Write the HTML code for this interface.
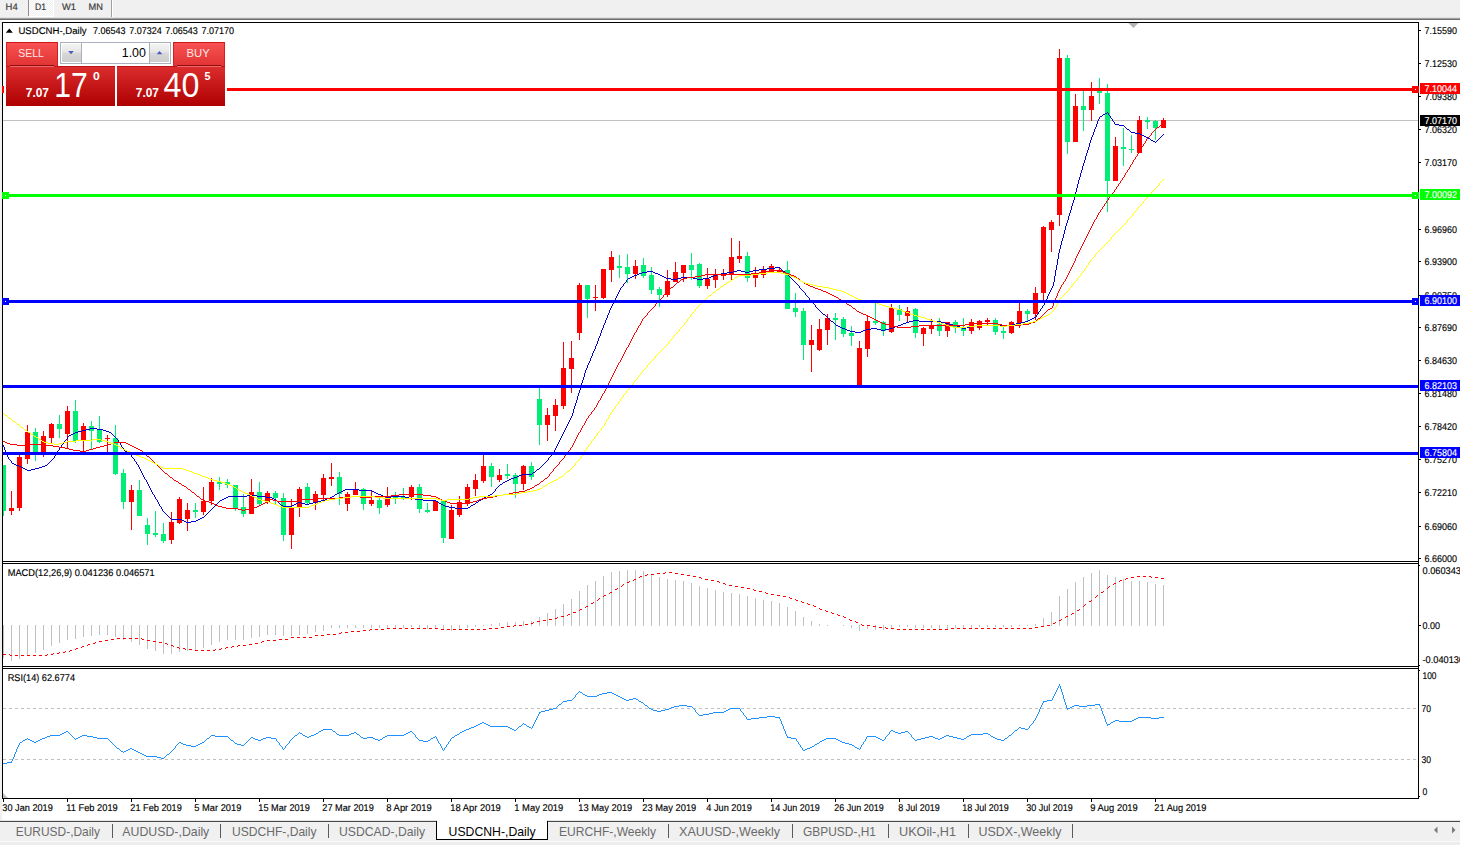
<!DOCTYPE html>
<html><head><meta charset="utf-8"><title>USDCNH-,Daily</title>
<style>html,body{margin:0;padding:0;background:#f0f0f0;overflow:hidden}svg text{white-space:pre}</style></head>
<body>
<svg width="1460" height="845" viewBox="0 0 1460 845" font-family='"Liberation Sans", Arial, sans-serif' style="display:block">
<defs>
<linearGradient id="gTab" x1="0" y1="0" x2="0" y2="1"><stop offset="0" stop-color="#f95252"/><stop offset="1" stop-color="#e13434"/></linearGradient>
<linearGradient id="gBig" x1="0" y1="0" x2="0" y2="1"><stop offset="0" stop-color="#dc2e2e"/><stop offset="1" stop-color="#ae0000"/></linearGradient>
<linearGradient id="gBtn" x1="0" y1="0" x2="0" y2="1"><stop offset="0" stop-color="#f4f4f4"/><stop offset="0.45" stop-color="#e6e6e6"/><stop offset="0.5" stop-color="#d8d8d8"/><stop offset="1" stop-color="#cdcdcd"/></linearGradient>
<pattern id="chk" width="2" height="2" patternUnits="userSpaceOnUse"><rect width="2" height="2" fill="#f0f0f0"/><rect width="1" height="1" fill="#fff"/><rect x="1" y="1" width="1" height="1" fill="#fff"/></pattern>
<clipPath id="clipMain"><rect x="3" y="23" width="1415" height="538"/></clipPath>
</defs>
<rect x="0" y="0" width="1460" height="845" fill="#f0f0f0" />
<rect x="0" y="18" width="1460" height="1" fill="#a0a0a0" />
<rect x="0" y="19" width="1460" height="1" fill="#6e6e6e" />
<rect x="2" y="20" width="1458" height="802" fill="#ffffff" />
<rect x="0" y="20" width="2" height="802" fill="#f0f0f0" />
<g shape-rendering="crispEdges">
<rect x="29" y="0" width="24" height="16" fill="url(#chk)" />
<rect x="53" y="0" width="1" height="17" fill="#fff" />
<rect x="29" y="16" width="25" height="1" fill="#fff" />
<rect x="28" y="0" width="1" height="16" fill="#8e8e8e" />
<rect x="111" y="0" width="1" height="18" fill="#a0a0a0" />
<rect x="112" y="0" width="1" height="18" fill="#fff" />
<rect x="0" y="17" width="1460" height="1" fill="#e2e2e2" />
</g>
<text x="5.6" y="9.9" font-size="9.4" fill="#404040" textLength="12.1" lengthAdjust="spacingAndGlyphs" text-rendering="geometricPrecision" stroke="#404040" stroke-width="0.2">H4</text>
<text x="34.9" y="9.9" font-size="9.4" fill="#404040" textLength="11.1" lengthAdjust="spacingAndGlyphs" text-rendering="geometricPrecision" stroke="#404040" stroke-width="0.2">D1</text>
<text x="62" y="9.9" font-size="9.4" fill="#404040" textLength="14" lengthAdjust="spacingAndGlyphs" text-rendering="geometricPrecision" stroke="#404040" stroke-width="0.2">W1</text>
<text x="88.6" y="9.9" font-size="9.4" fill="#404040" textLength="14.4" lengthAdjust="spacingAndGlyphs" text-rendering="geometricPrecision" stroke="#404040" stroke-width="0.2">MN</text>
<g shape-rendering="crispEdges">
<rect x="2" y="22" width="1417" height="1" fill="#000" />
<rect x="2" y="22" width="1" height="777" fill="#000" />
<rect x="1418" y="22" width="1" height="777" fill="#000" />
<rect x="2" y="561" width="1417" height="1" fill="#000" />
<rect x="2" y="563" width="1417" height="1" fill="#000" />
<rect x="2" y="666" width="1417" height="1" fill="#000" />
<rect x="2" y="668" width="1417" height="1" fill="#000" />
<rect x="2" y="798" width="1417" height="1" fill="#000" />
<rect x="3" y="120" width="1415" height="1" fill="#c0c0c0" />
<g clip-path="url(#clipMain)">
<rect x="3" y="465" width="1" height="51" fill="#00ee76" />
<rect x="1" y="465" width="5" height="46" fill="#00ee76" />
<rect x="11" y="491" width="1" height="24" fill="#ff0000" />
<rect x="9" y="508" width="5" height="3" fill="#ff0000" />
<rect x="19" y="455" width="1" height="56" fill="#ff0000" />
<rect x="17" y="457" width="5" height="51" fill="#ff0000" />
<rect x="27" y="425" width="1" height="39" fill="#ff0000" />
<rect x="25" y="432" width="5" height="27" fill="#ff0000" />
<rect x="35" y="428" width="1" height="33" fill="#00ee76" />
<rect x="33" y="432" width="5" height="21" fill="#00ee76" />
<rect x="43" y="431" width="1" height="26" fill="#ff0000" />
<rect x="41" y="436" width="5" height="16" fill="#ff0000" />
<rect x="51" y="423" width="1" height="20" fill="#ff0000" />
<rect x="49" y="424" width="5" height="14" fill="#ff0000" />
<rect x="59" y="415" width="1" height="23" fill="#00ee76" />
<rect x="57" y="424" width="5" height="5" fill="#00ee76" />
<rect x="67" y="406" width="1" height="42" fill="#ff0000" />
<rect x="65" y="411" width="5" height="23" fill="#ff0000" />
<rect x="75" y="400" width="1" height="43" fill="#00ee76" />
<rect x="73" y="411" width="5" height="30" fill="#00ee76" />
<rect x="83" y="423" width="1" height="28" fill="#ff0000" />
<rect x="81" y="426" width="5" height="15" fill="#ff0000" />
<rect x="91" y="421" width="1" height="28" fill="#00ee76" />
<rect x="89" y="426" width="5" height="5" fill="#00ee76" />
<rect x="99" y="416" width="1" height="27" fill="#00ee76" />
<rect x="97" y="430" width="5" height="12" fill="#00ee76" />
<rect x="107" y="435" width="1" height="17" fill="#ff0000" />
<rect x="105" y="438" width="5" height="1" fill="#ff0000" />
<rect x="115" y="425" width="1" height="50" fill="#00ee76" />
<rect x="113" y="438" width="5" height="36" fill="#00ee76" />
<rect x="123" y="469" width="1" height="40" fill="#00ee76" />
<rect x="121" y="473" width="5" height="29" fill="#00ee76" />
<rect x="131" y="485" width="1" height="45" fill="#ff0000" />
<rect x="129" y="490" width="5" height="12" fill="#ff0000" />
<rect x="139" y="480" width="1" height="36" fill="#00ee76" />
<rect x="137" y="490" width="5" height="26" fill="#00ee76" />
<rect x="147" y="518" width="1" height="27" fill="#00ee76" />
<rect x="145" y="525" width="5" height="9" fill="#00ee76" />
<rect x="155" y="511" width="1" height="26" fill="#00ee76" />
<rect x="153" y="533" width="5" height="2" fill="#00ee76" />
<rect x="163" y="523" width="1" height="20" fill="#00ee76" />
<rect x="161" y="534" width="5" height="7" fill="#00ee76" />
<rect x="171" y="512" width="1" height="32" fill="#ff0000" />
<rect x="169" y="522" width="5" height="18" fill="#ff0000" />
<rect x="179" y="497" width="1" height="27" fill="#ff0000" />
<rect x="177" y="499" width="5" height="24" fill="#ff0000" />
<rect x="187" y="503" width="1" height="28" fill="#ff0000" />
<rect x="185" y="510" width="5" height="9" fill="#ff0000" />
<rect x="195" y="503" width="1" height="15" fill="#00ee76" />
<rect x="193" y="510" width="5" height="2" fill="#00ee76" />
<rect x="203" y="487" width="1" height="28" fill="#ff0000" />
<rect x="201" y="501" width="5" height="11" fill="#ff0000" />
<rect x="211" y="478" width="1" height="27" fill="#ff0000" />
<rect x="209" y="482" width="5" height="19" fill="#ff0000" />
<rect x="219" y="477" width="1" height="13" fill="#00ee76" />
<rect x="217" y="482" width="5" height="2" fill="#00ee76" />
<rect x="227" y="479" width="1" height="9" fill="#00ee76" />
<rect x="225" y="482" width="5" height="3" fill="#00ee76" />
<rect x="235" y="485" width="1" height="26" fill="#00ee76" />
<rect x="233" y="485" width="5" height="23" fill="#00ee76" />
<rect x="243" y="494" width="1" height="23" fill="#00ee76" />
<rect x="241" y="507" width="5" height="7" fill="#00ee76" />
<rect x="251" y="479" width="1" height="35" fill="#ff0000" />
<rect x="249" y="492" width="5" height="22" fill="#ff0000" />
<rect x="259" y="482" width="1" height="24" fill="#00ee76" />
<rect x="257" y="492" width="5" height="12" fill="#00ee76" />
<rect x="267" y="491" width="1" height="13" fill="#ff0000" />
<rect x="265" y="493" width="5" height="9" fill="#ff0000" />
<rect x="275" y="491" width="1" height="13" fill="#00ee76" />
<rect x="273" y="493" width="5" height="5" fill="#00ee76" />
<rect x="283" y="493" width="1" height="48" fill="#00ee76" />
<rect x="281" y="498" width="5" height="37" fill="#00ee76" />
<rect x="291" y="499" width="1" height="50" fill="#ff0000" />
<rect x="289" y="507" width="5" height="28" fill="#ff0000" />
<rect x="299" y="487" width="1" height="30" fill="#ff0000" />
<rect x="297" y="489" width="5" height="19" fill="#ff0000" />
<rect x="307" y="483" width="1" height="21" fill="#00ee76" />
<rect x="305" y="487" width="5" height="16" fill="#00ee76" />
<rect x="315" y="491" width="1" height="19" fill="#ff0000" />
<rect x="313" y="494" width="5" height="9" fill="#ff0000" />
<rect x="323" y="474" width="1" height="26" fill="#ff0000" />
<rect x="321" y="478" width="5" height="17" fill="#ff0000" />
<rect x="331" y="463" width="1" height="23" fill="#ff0000" />
<rect x="329" y="477" width="5" height="2" fill="#ff0000" />
<rect x="339" y="472" width="1" height="33" fill="#00ee76" />
<rect x="337" y="477" width="5" height="17" fill="#00ee76" />
<rect x="347" y="492" width="1" height="19" fill="#ff0000" />
<rect x="345" y="494" width="5" height="10" fill="#ff0000" />
<rect x="355" y="482" width="1" height="13" fill="#ff0000" />
<rect x="353" y="489" width="5" height="6" fill="#ff0000" />
<rect x="363" y="488" width="1" height="22" fill="#00ee76" />
<rect x="361" y="489" width="5" height="15" fill="#00ee76" />
<rect x="371" y="491" width="1" height="15" fill="#ff0000" />
<rect x="369" y="500" width="5" height="4" fill="#ff0000" />
<rect x="379" y="498" width="1" height="16" fill="#00ee76" />
<rect x="377" y="500" width="5" height="8" fill="#00ee76" />
<rect x="387" y="487" width="1" height="20" fill="#ff0000" />
<rect x="385" y="496" width="5" height="9" fill="#ff0000" />
<rect x="395" y="492" width="1" height="12" fill="#00ee76" />
<rect x="393" y="496" width="5" height="2" fill="#00ee76" />
<rect x="403" y="488" width="1" height="12" fill="#00ee76" />
<rect x="401" y="497" width="5" height="1" fill="#00ee76" />
<rect x="411" y="485" width="1" height="15" fill="#ff0000" />
<rect x="409" y="487" width="5" height="10" fill="#ff0000" />
<rect x="419" y="484" width="1" height="29" fill="#00ee76" />
<rect x="417" y="487" width="5" height="22" fill="#00ee76" />
<rect x="427" y="503" width="1" height="10" fill="#00ee76" />
<rect x="425" y="510" width="5" height="2" fill="#00ee76" />
<rect x="435" y="501" width="1" height="10" fill="#ff0000" />
<rect x="433" y="501" width="5" height="10" fill="#ff0000" />
<rect x="443" y="501" width="1" height="42" fill="#00ee76" />
<rect x="441" y="501" width="5" height="37" fill="#00ee76" />
<rect x="451" y="505" width="1" height="34" fill="#ff0000" />
<rect x="449" y="510" width="5" height="29" fill="#ff0000" />
<rect x="459" y="496" width="1" height="21" fill="#ff0000" />
<rect x="457" y="502" width="5" height="13" fill="#ff0000" />
<rect x="467" y="484" width="1" height="22" fill="#ff0000" />
<rect x="465" y="487" width="5" height="17" fill="#ff0000" />
<rect x="475" y="474" width="1" height="22" fill="#ff0000" />
<rect x="473" y="480" width="5" height="9" fill="#ff0000" />
<rect x="483" y="455" width="1" height="28" fill="#ff0000" />
<rect x="481" y="466" width="5" height="15" fill="#ff0000" />
<rect x="491" y="463" width="1" height="24" fill="#00ee76" />
<rect x="489" y="466" width="5" height="11" fill="#00ee76" />
<rect x="499" y="469" width="1" height="13" fill="#ff0000" />
<rect x="497" y="475" width="5" height="5" fill="#ff0000" />
<rect x="507" y="464" width="1" height="15" fill="#00ee76" />
<rect x="505" y="474" width="5" height="2" fill="#00ee76" />
<rect x="515" y="473" width="1" height="25" fill="#00ee76" />
<rect x="513" y="475" width="5" height="9" fill="#00ee76" />
<rect x="523" y="465" width="1" height="25" fill="#ff0000" />
<rect x="521" y="466" width="5" height="18" fill="#ff0000" />
<rect x="531" y="462" width="1" height="18" fill="#00ee76" />
<rect x="529" y="466" width="5" height="11" fill="#00ee76" />
<rect x="539" y="386" width="1" height="59" fill="#00ee76" />
<rect x="537" y="399" width="5" height="26" fill="#00ee76" />
<rect x="547" y="408" width="1" height="33" fill="#ff0000" />
<rect x="545" y="415" width="5" height="10" fill="#ff0000" />
<rect x="555" y="399" width="1" height="32" fill="#ff0000" />
<rect x="553" y="405" width="5" height="11" fill="#ff0000" />
<rect x="563" y="342" width="1" height="67" fill="#ff0000" />
<rect x="561" y="368" width="5" height="38" fill="#ff0000" />
<rect x="571" y="341" width="1" height="52" fill="#ff0000" />
<rect x="569" y="358" width="5" height="11" fill="#ff0000" />
<rect x="579" y="283" width="1" height="57" fill="#ff0000" />
<rect x="577" y="285" width="5" height="48" fill="#ff0000" />
<rect x="587" y="285" width="1" height="33" fill="#00ee76" />
<rect x="585" y="285" width="5" height="14" fill="#00ee76" />
<rect x="595" y="285" width="1" height="26" fill="#ff0000" />
<rect x="593" y="297" width="5" height="1" fill="#ff0000" />
<rect x="603" y="269" width="1" height="30" fill="#ff0000" />
<rect x="601" y="269" width="5" height="29" fill="#ff0000" />
<rect x="611" y="251" width="1" height="31" fill="#ff0000" />
<rect x="609" y="257" width="5" height="13" fill="#ff0000" />
<rect x="619" y="255" width="1" height="23" fill="#00ee76" />
<rect x="617" y="266" width="5" height="2" fill="#00ee76" />
<rect x="627" y="254" width="1" height="29" fill="#00ee76" />
<rect x="625" y="267" width="5" height="7" fill="#00ee76" />
<rect x="635" y="260" width="1" height="19" fill="#ff0000" />
<rect x="633" y="266" width="5" height="8" fill="#ff0000" />
<rect x="643" y="258" width="1" height="20" fill="#00ee76" />
<rect x="641" y="265" width="5" height="11" fill="#00ee76" />
<rect x="651" y="267" width="1" height="27" fill="#00ee76" />
<rect x="649" y="275" width="5" height="15" fill="#00ee76" />
<rect x="659" y="287" width="1" height="20" fill="#00ee76" />
<rect x="657" y="289" width="5" height="6" fill="#00ee76" />
<rect x="667" y="270" width="1" height="27" fill="#ff0000" />
<rect x="665" y="281" width="5" height="14" fill="#ff0000" />
<rect x="675" y="262" width="1" height="20" fill="#ff0000" />
<rect x="673" y="272" width="5" height="10" fill="#ff0000" />
<rect x="683" y="265" width="1" height="17" fill="#ff0000" />
<rect x="681" y="265" width="5" height="8" fill="#ff0000" />
<rect x="691" y="253" width="1" height="27" fill="#00ee76" />
<rect x="689" y="265" width="5" height="5" fill="#00ee76" />
<rect x="699" y="263" width="1" height="25" fill="#00ee76" />
<rect x="697" y="264" width="5" height="22" fill="#00ee76" />
<rect x="707" y="268" width="1" height="21" fill="#ff0000" />
<rect x="705" y="279" width="5" height="7" fill="#ff0000" />
<rect x="715" y="269" width="1" height="19" fill="#ff0000" />
<rect x="713" y="275" width="5" height="5" fill="#ff0000" />
<rect x="723" y="269" width="1" height="11" fill="#ff0000" />
<rect x="721" y="274" width="5" height="2" fill="#ff0000" />
<rect x="731" y="238" width="1" height="42" fill="#ff0000" />
<rect x="729" y="257" width="5" height="17" fill="#ff0000" />
<rect x="739" y="241" width="1" height="22" fill="#ff0000" />
<rect x="737" y="256" width="5" height="3" fill="#ff0000" />
<rect x="747" y="252" width="1" height="30" fill="#00ee76" />
<rect x="745" y="256" width="5" height="22" fill="#00ee76" />
<rect x="755" y="267" width="1" height="20" fill="#ff0000" />
<rect x="753" y="275" width="5" height="3" fill="#ff0000" />
<rect x="763" y="266" width="1" height="12" fill="#ff0000" />
<rect x="761" y="270" width="5" height="5" fill="#ff0000" />
<rect x="771" y="264" width="1" height="8" fill="#ff0000" />
<rect x="769" y="266" width="5" height="6" fill="#ff0000" />
<rect x="779" y="268" width="1" height="5" fill="#ff0000" />
<rect x="777" y="270" width="5" height="2" fill="#ff0000" />
<rect x="787" y="261" width="1" height="48" fill="#00ee76" />
<rect x="785" y="270" width="5" height="39" fill="#00ee76" />
<rect x="795" y="293" width="1" height="24" fill="#00ee76" />
<rect x="793" y="308" width="5" height="4" fill="#00ee76" />
<rect x="803" y="308" width="1" height="52" fill="#00ee76" />
<rect x="801" y="311" width="5" height="34" fill="#00ee76" />
<rect x="811" y="325" width="1" height="47" fill="#ff0000" />
<rect x="809" y="340" width="5" height="5" fill="#ff0000" />
<rect x="819" y="319" width="1" height="32" fill="#ff0000" />
<rect x="817" y="329" width="5" height="21" fill="#ff0000" />
<rect x="827" y="314" width="1" height="31" fill="#ff0000" />
<rect x="825" y="318" width="5" height="12" fill="#ff0000" />
<rect x="835" y="313" width="1" height="27" fill="#00ee76" />
<rect x="833" y="318" width="5" height="2" fill="#00ee76" />
<rect x="843" y="317" width="1" height="20" fill="#00ee76" />
<rect x="841" y="319" width="5" height="15" fill="#00ee76" />
<rect x="851" y="326" width="1" height="20" fill="#00ee76" />
<rect x="849" y="333" width="5" height="3" fill="#00ee76" />
<rect x="859" y="341" width="1" height="45" fill="#ff0000" />
<rect x="857" y="348" width="5" height="38" fill="#ff0000" />
<rect x="867" y="315" width="1" height="42" fill="#ff0000" />
<rect x="865" y="321" width="5" height="28" fill="#ff0000" />
<rect x="875" y="300" width="1" height="25" fill="#00ee76" />
<rect x="873" y="321" width="5" height="2" fill="#00ee76" />
<rect x="883" y="321" width="1" height="15" fill="#00ee76" />
<rect x="881" y="322" width="5" height="9" fill="#00ee76" />
<rect x="891" y="304" width="1" height="29" fill="#ff0000" />
<rect x="889" y="308" width="5" height="24" fill="#ff0000" />
<rect x="899" y="305" width="1" height="16" fill="#00ee76" />
<rect x="897" y="309" width="5" height="6" fill="#00ee76" />
<rect x="907" y="307" width="1" height="15" fill="#ff0000" />
<rect x="905" y="311" width="5" height="5" fill="#ff0000" />
<rect x="915" y="308" width="1" height="30" fill="#00ee76" />
<rect x="913" y="309" width="5" height="24" fill="#00ee76" />
<rect x="923" y="327" width="1" height="19" fill="#ff0000" />
<rect x="921" y="328" width="5" height="6" fill="#ff0000" />
<rect x="931" y="319" width="1" height="15" fill="#ff0000" />
<rect x="929" y="325" width="5" height="4" fill="#ff0000" />
<rect x="939" y="318" width="1" height="18" fill="#00ee76" />
<rect x="937" y="324" width="5" height="7" fill="#00ee76" />
<rect x="947" y="322" width="1" height="15" fill="#ff0000" />
<rect x="945" y="322" width="5" height="9" fill="#ff0000" />
<rect x="955" y="320" width="1" height="13" fill="#00ee76" />
<rect x="953" y="322" width="5" height="6" fill="#00ee76" />
<rect x="963" y="318" width="1" height="18" fill="#00ee76" />
<rect x="961" y="328" width="5" height="3" fill="#00ee76" />
<rect x="971" y="319" width="1" height="15" fill="#ff0000" />
<rect x="969" y="322" width="5" height="9" fill="#ff0000" />
<rect x="979" y="320" width="1" height="10" fill="#ff0000" />
<rect x="977" y="321" width="5" height="7" fill="#ff0000" />
<rect x="987" y="318" width="1" height="7" fill="#ff0000" />
<rect x="985" y="320" width="5" height="2" fill="#ff0000" />
<rect x="995" y="318" width="1" height="17" fill="#00ee76" />
<rect x="993" y="320" width="5" height="12" fill="#00ee76" />
<rect x="1003" y="327" width="1" height="12" fill="#00ee76" />
<rect x="1001" y="331" width="5" height="2" fill="#00ee76" />
<rect x="1011" y="321" width="1" height="13" fill="#ff0000" />
<rect x="1009" y="322" width="5" height="11" fill="#ff0000" />
<rect x="1019" y="300" width="1" height="28" fill="#ff0000" />
<rect x="1017" y="311" width="5" height="12" fill="#ff0000" />
<rect x="1027" y="309" width="1" height="12" fill="#00ee76" />
<rect x="1025" y="311" width="5" height="3" fill="#00ee76" />
<rect x="1035" y="287" width="1" height="33" fill="#ff0000" />
<rect x="1033" y="293" width="5" height="21" fill="#ff0000" />
<rect x="1043" y="226" width="1" height="75" fill="#ff0000" />
<rect x="1041" y="227" width="5" height="66" fill="#ff0000" />
<rect x="1051" y="220" width="1" height="32" fill="#ff0000" />
<rect x="1049" y="222" width="5" height="8" fill="#ff0000" />
<rect x="1059" y="49" width="1" height="177" fill="#ff0000" />
<rect x="1057" y="58" width="5" height="157" fill="#ff0000" />
<rect x="1067" y="55" width="1" height="99" fill="#00ee76" />
<rect x="1065" y="58" width="5" height="84" fill="#00ee76" />
<rect x="1075" y="94" width="1" height="48" fill="#ff0000" />
<rect x="1073" y="106" width="5" height="36" fill="#ff0000" />
<rect x="1083" y="88" width="1" height="43" fill="#00ee76" />
<rect x="1081" y="106" width="5" height="4" fill="#00ee76" />
<rect x="1091" y="82" width="1" height="39" fill="#ff0000" />
<rect x="1089" y="96" width="5" height="14" fill="#ff0000" />
<rect x="1099" y="78" width="1" height="26" fill="#00ee76" />
<rect x="1097" y="91" width="5" height="2" fill="#00ee76" />
<rect x="1107" y="84" width="1" height="128" fill="#00ee76" />
<rect x="1105" y="93" width="5" height="88" fill="#00ee76" />
<rect x="1115" y="137" width="1" height="44" fill="#ff0000" />
<rect x="1113" y="146" width="5" height="35" fill="#ff0000" />
<rect x="1123" y="128" width="1" height="38" fill="#00ee76" />
<rect x="1121" y="147" width="5" height="2" fill="#00ee76" />
<rect x="1131" y="135" width="1" height="18" fill="#00ee76" />
<rect x="1129" y="149" width="5" height="1" fill="#00ee76" />
<rect x="1139" y="116" width="1" height="37" fill="#ff0000" />
<rect x="1137" y="120" width="5" height="33" fill="#ff0000" />
<rect x="1147" y="117" width="1" height="12" fill="#00ee76" />
<rect x="1145" y="120" width="5" height="2" fill="#00ee76" />
<rect x="1155" y="120" width="1" height="20" fill="#00ee76" />
<rect x="1153" y="121" width="5" height="7" fill="#00ee76" />
<rect x="1163" y="118" width="1" height="10" fill="#ff0000" />
<rect x="1161" y="120" width="5" height="8" fill="#ff0000" />
</g>
</g>
<g clip-path="url(#clipMain)" shape-rendering="crispEdges">
<path d="M1107 112h1v1h-1zM1105 113h2v1h-2zM1108 113h1v2h-1zM1103 114h2v1h-2zM1102 115h1v1h-1zM1109 115h1v1h-1zM1100 116h2v1h-2zM1110 116h1v2h-1zM1099 117h1v2h-1zM1111 118h1v1h-1zM1098 119h1v2h-1zM1112 119h1v2h-1zM1113 121h1v1h-1zM1097 121h1v3h-1zM1114 122h1v2h-1zM1115 124h4v1h-4zM1096 124h1v3h-1zM1119 125h5v1h-5zM1124 126h1v1h-1zM1125 127h1v1h-1zM1095 127h1v2h-1zM1126 128h1v1h-1zM1127 129h2v1h-2zM1094 129h1v3h-1zM1129 130h1v1h-1zM1130 131h1v1h-1zM1131 132h4v1h-4zM1093 132h1v3h-1zM1135 133h5v1h-5zM1140 134h2v1h-2zM1163 134h1v1h-1zM1142 135h2v1h-2zM1162 135h1v1h-1zM1092 135h1v2h-1zM1144 136h2v1h-2zM1161 136h1v1h-1zM1146 137h2v1h-2zM1160 137h1v1h-1zM1091 137h1v3h-1zM1148 138h2v1h-2zM1159 138h1v1h-1zM1150 139h1v1h-1zM1158 139h1v1h-1zM1151 140h2v1h-2zM1157 140h1v1h-1zM1090 140h1v3h-1zM1153 141h2v1h-2zM1156 141h1v1h-1zM1155 142h1v1h-1zM1089 143h1v4h-1zM1088 147h1v3h-1zM1087 150h1v3h-1zM1086 153h1v3h-1zM1085 156h1v4h-1zM1084 160h1v3h-1zM1083 163h1v3h-1zM1082 166h1v4h-1zM1081 170h1v3h-1zM1080 173h1v4h-1zM1079 177h1v3h-1zM1078 180h1v4h-1zM1077 184h1v4h-1zM1076 188h1v4h-1zM1075 192h1v4h-1zM1074 196h1v4h-1zM1073 200h1v3h-1zM1072 203h1v3h-1zM1071 206h1v4h-1zM1070 210h1v3h-1zM1069 213h1v3h-1zM1068 216h1v4h-1zM1067 220h1v3h-1zM1066 223h1v3h-1zM1065 226h1v4h-1zM1064 230h1v4h-1zM1063 234h1v4h-1zM1062 238h1v3h-1zM1061 241h1v4h-1zM1060 245h1v4h-1zM1059 249h1v4h-1zM1058 253h1v6h-1zM1057 259h1v6h-1zM1056 265h1v5h-1zM775 267h5v1h-5zM767 268h8v1h-8zM780 268h1v1h-1zM759 269h8v1h-8zM781 269h1v1h-1zM737 270h4v1h-4zM753 270h6v1h-6zM782 270h1v1h-1zM1055 270h1v6h-1zM647 271h6v1h-6zM733 271h4v1h-4zM741 271h4v1h-4zM749 271h4v1h-4zM783 271h2v1h-2zM642 272h5v1h-5zM653 272h2v1h-2zM727 272h6v1h-6zM745 272h4v1h-4zM785 272h1v1h-1zM639 273h3v1h-3zM655 273h3v1h-3zM721 273h6v1h-6zM786 273h1v1h-1zM637 274h2v1h-2zM658 274h2v1h-2zM717 274h4v1h-4zM787 274h1v1h-1zM634 275h3v1h-3zM660 275h2v1h-2zM714 275h3v1h-3zM788 275h1v1h-1zM632 276h2v1h-2zM662 276h2v1h-2zM711 276h3v1h-3zM789 276h1v1h-1zM1054 276h1v6h-1zM630 277h2v1h-2zM664 277h2v1h-2zM681 277h12v1h-12zM709 277h2v1h-2zM790 277h1v1h-1zM628 278h2v1h-2zM666 278h5v1h-5zM677 278h4v1h-4zM693 278h4v1h-4zM703 278h6v1h-6zM791 278h1v1h-1zM627 279h1v1h-1zM671 279h6v1h-6zM697 279h6v1h-6zM792 279h1v1h-1zM793 280h1v1h-1zM626 280h1v2h-1zM794 281h1v1h-1zM625 282h1v1h-1zM795 282h1v1h-1zM1053 282h1v4h-1zM624 283h1v1h-1zM796 283h1v1h-1zM797 284h1v1h-1zM623 284h1v2h-1zM798 285h1v1h-1zM622 286h1v1h-1zM799 286h1v2h-1zM1052 286h1v2h-1zM621 287h1v1h-1zM800 288h1v1h-1zM620 288h1v2h-1zM1051 288h1v2h-1zM801 289h1v1h-1zM802 290h1v1h-1zM619 290h1v2h-1zM1050 290h1v2h-1zM803 291h1v1h-1zM804 292h1v1h-1zM618 292h1v2h-1zM1049 292h1v2h-1zM805 293h1v2h-1zM617 294h1v2h-1zM1048 294h1v2h-1zM806 295h1v1h-1zM807 296h1v1h-1zM616 296h1v2h-1zM1047 296h1v3h-1zM808 297h1v1h-1zM615 298h1v2h-1zM809 298h1v2h-1zM1046 299h1v2h-1zM810 300h1v1h-1zM614 300h1v2h-1zM811 301h1v1h-1zM1045 301h1v2h-1zM812 302h1v1h-1zM613 302h1v2h-1zM813 303h1v1h-1zM1044 303h1v2h-1zM814 304h1v1h-1zM612 304h1v2h-1zM1043 305h1v1h-1zM815 305h1v2h-1zM611 306h1v2h-1zM1042 306h1v2h-1zM816 307h1v1h-1zM817 308h1v1h-1zM1041 308h1v1h-1zM610 308h1v2h-1zM818 309h1v1h-1zM1040 309h1v2h-1zM819 310h1v1h-1zM609 310h1v3h-1zM820 311h1v1h-1zM1039 311h1v1h-1zM821 312h1v1h-1zM1038 312h1v2h-1zM822 313h1v1h-1zM608 313h1v2h-1zM823 314h2v1h-2zM1037 314h1v1h-1zM825 315h1v1h-1zM1036 315h1v2h-1zM607 315h1v3h-1zM826 316h1v1h-1zM827 317h1v1h-1zM1034 317h2v1h-2zM828 318h1v1h-1zM1032 318h2v1h-2zM606 318h1v2h-1zM829 319h1v1h-1zM1030 319h2v1h-2zM830 320h1v1h-1zM913 320h6v1h-6zM1028 320h2v1h-2zM605 320h1v3h-1zM831 321h2v1h-2zM909 321h4v1h-4zM919 321h22v1h-22zM1025 321h3v1h-3zM833 322h1v1h-1zM906 322h3v1h-3zM941 322h4v1h-4zM1021 322h4v1h-4zM834 323h1v1h-1zM903 323h3v1h-3zM945 323h4v1h-4zM1016 323h5v1h-5zM604 323h1v2h-1zM835 324h1v1h-1zM901 324h2v1h-2zM949 324h4v1h-4zM1012 324h4v1h-4zM836 325h2v1h-2zM898 325h3v1h-3zM953 325h4v1h-4zM975 325h37v1h-37zM603 325h1v3h-1zM838 326h2v1h-2zM895 326h3v1h-3zM957 326h3v1h-3zM970 326h5v1h-5zM840 327h2v1h-2zM893 327h2v1h-2zM960 327h2v1h-2zM966 327h4v1h-4zM842 328h3v1h-3zM871 328h6v1h-6zM889 328h4v1h-4zM962 328h4v1h-4zM602 328h1v2h-1zM845 329h2v1h-2zM866 329h5v1h-5zM877 329h4v1h-4zM885 329h4v1h-4zM847 330h3v1h-3zM863 330h3v1h-3zM881 330h4v1h-4zM601 330h1v3h-1zM850 331h5v1h-5zM861 331h2v1h-2zM855 332h6v1h-6zM600 333h1v3h-1zM599 336h1v2h-1zM598 338h1v3h-1zM597 341h1v3h-1zM596 344h1v2h-1zM595 346h1v3h-1zM594 349h1v2h-1zM593 351h1v2h-1zM592 353h1v3h-1zM591 356h1v2h-1zM590 358h1v3h-1zM589 361h1v2h-1zM588 363h1v2h-1zM587 365h1v3h-1zM586 368h1v2h-1zM585 370h1v3h-1zM584 373h1v4h-1zM583 377h1v3h-1zM582 380h1v3h-1zM581 383h1v4h-1zM580 387h1v3h-1zM579 390h1v3h-1zM578 393h1v3h-1zM577 396h1v4h-1zM576 400h1v3h-1zM575 403h1v3h-1zM574 406h1v3h-1zM573 409h1v4h-1zM572 413h1v3h-1zM571 416h1v2h-1zM570 418h1v2h-1zM569 420h1v2h-1zM568 422h1v2h-1zM567 424h1v2h-1zM566 426h1v2h-1zM90 428h7v1h-7zM565 428h1v2h-1zM86 429h4v1h-4zM97 429h6v1h-6zM82 430h4v1h-4zM103 430h3v1h-3zM564 430h1v2h-1zM78 431h4v1h-4zM106 431h3v1h-3zM75 432h3v1h-3zM109 432h2v1h-2zM563 432h1v2h-1zM73 433h2v1h-2zM111 433h1v1h-1zM71 434h2v1h-2zM112 434h1v1h-1zM562 434h1v2h-1zM69 435h2v1h-2zM113 435h1v1h-1zM68 436h1v1h-1zM114 436h1v1h-1zM561 436h1v2h-1zM115 437h1v1h-1zM67 437h1v2h-1zM116 438h1v1h-1zM560 438h1v2h-1zM66 439h1v1h-1zM117 439h1v1h-1zM65 440h1v1h-1zM118 440h1v2h-1zM559 440h1v2h-1zM64 441h1v2h-1zM119 442h1v1h-1zM558 442h1v2h-1zM63 443h1v1h-1zM120 443h1v2h-1zM62 444h1v1h-1zM557 444h1v2h-1zM3 445h1v2h-1zM61 445h1v2h-1zM121 445h1v2h-1zM556 446h1v2h-1zM60 447h1v1h-1zM122 447h1v1h-1zM4 447h1v3h-1zM59 448h1v2h-1zM123 448h1v2h-1zM555 448h1v2h-1zM58 450h1v1h-1zM124 450h1v1h-1zM5 450h1v2h-1zM554 450h1v2h-1zM125 451h2v1h-2zM57 451h1v2h-1zM127 452h1v1h-1zM553 452h1v1h-1zM6 452h1v3h-1zM128 453h2v1h-2zM552 453h1v1h-1zM56 453h1v2h-1zM130 454h1v1h-1zM551 454h1v2h-1zM55 455h1v1h-1zM7 455h1v2h-1zM131 455h1v2h-1zM550 456h1v1h-1zM54 456h1v2h-1zM132 457h1v1h-1zM549 457h1v1h-1zM8 457h1v2h-1zM53 458h1v1h-1zM133 458h1v1h-1zM548 458h1v2h-1zM9 459h1v1h-1zM52 459h1v1h-1zM134 459h1v2h-1zM10 460h1v1h-1zM51 460h1v1h-1zM547 460h1v1h-1zM50 461h1v1h-1zM135 461h1v1h-1zM546 461h1v1h-1zM11 461h1v2h-1zM49 462h1v1h-1zM545 462h1v1h-1zM136 462h1v2h-1zM12 463h2v1h-2zM48 463h1v1h-1zM544 463h1v1h-1zM14 464h2v1h-2zM47 464h1v1h-1zM137 464h1v1h-1zM543 464h1v1h-1zM16 465h3v1h-3zM45 465h2v1h-2zM542 465h1v1h-1zM138 465h1v2h-1zM19 466h2v1h-2zM42 466h3v1h-3zM541 466h1v1h-1zM21 467h2v1h-2zM39 467h3v1h-3zM540 467h1v1h-1zM139 467h1v2h-1zM23 468h2v1h-2zM35 468h4v1h-4zM539 468h1v1h-1zM25 469h2v1h-2zM31 469h4v1h-4zM537 469h2v1h-2zM140 469h1v2h-1zM27 470h4v1h-4zM536 470h1v1h-1zM535 471h1v1h-1zM141 471h1v2h-1zM533 472h2v1h-2zM532 473h1v1h-1zM142 473h1v2h-1zM522 474h10v1h-10zM519 475h3v1h-3zM143 475h1v2h-1zM517 476h2v1h-2zM514 477h3v1h-3zM144 477h1v2h-1zM511 478h3v1h-3zM145 479h1v1h-1zM509 479h2v1h-2zM507 480h2v1h-2zM146 480h1v2h-1zM505 481h2v1h-2zM503 482h2v1h-2zM147 482h1v2h-1zM502 483h1v1h-1zM500 484h2v1h-2zM148 484h1v2h-1zM499 485h1v1h-1zM498 486h1v1h-1zM149 486h1v2h-1zM497 487h1v1h-1zM496 488h1v1h-1zM150 488h1v2h-1zM345 489h14v1h-14zM495 489h1v2h-1zM343 490h2v1h-2zM359 490h13v1h-13zM151 490h1v2h-1zM341 491h2v1h-2zM372 491h2v1h-2zM494 491h1v1h-1zM339 492h2v1h-2zM374 492h2v1h-2zM493 492h1v1h-1zM152 492h1v2h-1zM337 493h2v1h-2zM376 493h2v1h-2zM492 493h1v1h-1zM153 494h1v1h-1zM335 494h2v1h-2zM378 494h3v1h-3zM490 494h2v1h-2zM247 495h10v1h-10zM334 495h1v1h-1zM381 495h2v1h-2zM488 495h2v1h-2zM154 495h1v2h-1zM228 496h19v1h-19zM257 496h9v1h-9zM332 496h2v1h-2zM383 496h3v1h-3zM391 496h14v1h-14zM486 496h2v1h-2zM226 497h2v1h-2zM266 497h6v1h-6zM330 497h2v1h-2zM386 497h5v1h-5zM405 497h4v1h-4zM484 497h2v1h-2zM155 497h1v2h-1zM224 498h2v1h-2zM272 498h2v1h-2zM327 498h3v1h-3zM409 498h6v1h-6zM483 498h1v1h-1zM156 499h1v1h-1zM222 499h2v1h-2zM274 499h2v1h-2zM325 499h2v1h-2zM415 499h8v1h-8zM481 499h2v1h-2zM220 500h2v1h-2zM276 500h1v1h-1zM321 500h4v1h-4zM423 500h13v1h-13zM479 500h2v1h-2zM157 500h1v2h-1zM219 501h1v1h-1zM277 501h1v1h-1zM317 501h4v1h-4zM436 501h2v1h-2zM478 501h1v1h-1zM218 502h1v1h-1zM278 502h1v1h-1zM298 502h3v1h-3zM313 502h4v1h-4zM438 502h1v1h-1zM476 502h2v1h-2zM158 502h1v2h-1zM217 503h1v1h-1zM279 503h1v1h-1zM296 503h2v1h-2zM301 503h4v1h-4zM309 503h4v1h-4zM439 503h2v1h-2zM475 503h1v1h-1zM216 504h1v1h-1zM280 504h1v1h-1zM294 504h2v1h-2zM305 504h4v1h-4zM441 504h2v1h-2zM473 504h2v1h-2zM159 504h1v2h-1zM215 505h1v1h-1zM281 505h2v1h-2zM292 505h2v1h-2zM443 505h2v1h-2zM471 505h2v1h-2zM160 506h1v1h-1zM214 506h1v1h-1zM283 506h9v1h-9zM445 506h4v1h-4zM470 506h1v1h-1zM213 507h1v1h-1zM449 507h6v1h-6zM468 507h2v1h-2zM161 507h1v2h-1zM212 508h1v1h-1zM455 508h13v1h-13zM211 509h1v1h-1zM162 509h1v2h-1zM210 510h1v1h-1zM163 511h1v1h-1zM209 511h1v1h-1zM164 512h1v1h-1zM208 512h1v1h-1zM165 513h1v1h-1zM207 513h1v1h-1zM166 514h1v1h-1zM206 514h1v1h-1zM167 515h1v1h-1zM205 515h1v1h-1zM168 516h1v1h-1zM204 516h1v1h-1zM169 517h1v1h-1zM202 517h2v1h-2zM170 518h1v1h-1zM200 518h2v1h-2zM171 519h11v1h-11zM198 519h2v1h-2zM182 520h2v1h-2zM196 520h2v1h-2zM184 521h2v1h-2zM191 521h5v1h-5zM186 522h5v1h-5z" fill="#0000cd"/>
<path d="M1163 123h1v1h-1zM1161 124h2v1h-2zM1160 125h1v1h-1zM1159 126h1v1h-1zM1157 127h2v1h-2zM1156 128h1v1h-1zM1155 129h1v1h-1zM1154 130h1v1h-1zM1153 131h1v1h-1zM1152 132h1v1h-1zM1151 133h1v2h-1zM1150 135h1v1h-1zM1149 136h1v1h-1zM1148 137h1v1h-1zM1147 138h1v1h-1zM1146 139h1v2h-1zM1145 141h1v2h-1zM1144 143h1v1h-1zM1143 144h1v2h-1zM1142 146h1v1h-1zM1141 147h1v2h-1zM1140 149h1v2h-1zM1139 151h1v1h-1zM1138 152h1v2h-1zM1137 154h1v2h-1zM1136 156h1v1h-1zM1135 157h1v2h-1zM1134 159h1v1h-1zM1133 160h1v2h-1zM1132 162h1v2h-1zM1131 164h1v1h-1zM1130 165h1v2h-1zM1129 167h1v2h-1zM1128 169h1v1h-1zM1127 170h1v2h-1zM1126 172h1v1h-1zM1125 173h1v2h-1zM1124 175h1v2h-1zM1123 177h1v1h-1zM1122 178h1v2h-1zM1121 180h1v1h-1zM1120 181h1v2h-1zM1119 183h1v1h-1zM1118 184h1v2h-1zM1117 186h1v1h-1zM1116 187h1v2h-1zM1115 189h1v1h-1zM1114 190h1v2h-1zM1113 192h1v1h-1zM1112 193h1v1h-1zM1111 194h1v2h-1zM1110 196h1v1h-1zM1109 197h1v1h-1zM1108 198h1v2h-1zM1107 200h1v1h-1zM1106 201h1v2h-1zM1105 203h1v1h-1zM1104 204h1v2h-1zM1103 206h1v1h-1zM1102 207h1v2h-1zM1101 209h1v1h-1zM1100 210h1v2h-1zM1099 212h1v1h-1zM1098 213h1v2h-1zM1097 215h1v2h-1zM1096 217h1v2h-1zM1095 219h1v1h-1zM1094 220h1v2h-1zM1093 222h1v2h-1zM1092 224h1v2h-1zM1091 226h1v2h-1zM1090 228h1v2h-1zM1089 230h1v2h-1zM1088 232h1v2h-1zM1087 234h1v2h-1zM1086 236h1v2h-1zM1085 238h1v2h-1zM1084 240h1v2h-1zM1083 242h1v2h-1zM1082 244h1v2h-1zM1081 246h1v2h-1zM1080 248h1v2h-1zM1079 250h1v2h-1zM1078 252h1v2h-1zM1077 254h1v2h-1zM1076 256h1v2h-1zM1075 258h1v3h-1zM1074 261h1v2h-1zM1073 263h1v2h-1zM1072 265h1v2h-1zM1071 267h1v2h-1zM1070 269h1v2h-1zM769 270h12v1h-12zM765 271h4v1h-4zM781 271h2v1h-2zM1069 271h1v2h-1zM759 272h6v1h-6zM783 272h3v1h-3zM751 273h8v1h-8zM786 273h3v1h-3zM1068 273h1v2h-1zM705 274h46v1h-46zM789 274h2v1h-2zM701 275h4v1h-4zM791 275h3v1h-3zM1067 275h1v2h-1zM695 276h6v1h-6zM794 276h2v1h-2zM687 277h8v1h-8zM796 277h1v1h-1zM1066 277h1v2h-1zM683 278h4v1h-4zM797 278h2v1h-2zM681 279h2v1h-2zM799 279h1v1h-1zM1065 279h1v2h-1zM680 280h1v1h-1zM800 280h1v1h-1zM679 281h1v1h-1zM801 281h2v1h-2zM1064 281h1v1h-1zM677 282h2v1h-2zM803 282h1v1h-1zM1063 282h1v2h-1zM676 283h1v1h-1zM804 283h2v1h-2zM675 284h1v1h-1zM806 284h2v1h-2zM1062 284h1v1h-1zM674 285h1v1h-1zM808 285h2v1h-2zM1061 285h1v2h-1zM673 286h1v1h-1zM810 286h3v1h-3zM671 287h2v1h-2zM813 287h2v1h-2zM1060 287h1v2h-1zM670 288h1v1h-1zM815 288h3v1h-3zM669 289h1v1h-1zM818 289h3v1h-3zM1059 289h1v2h-1zM668 290h1v1h-1zM821 290h2v1h-2zM667 291h1v1h-1zM823 291h3v1h-3zM1058 291h1v2h-1zM666 292h1v1h-1zM826 292h2v1h-2zM665 293h1v1h-1zM828 293h2v1h-2zM1057 293h1v3h-1zM664 294h1v1h-1zM830 294h2v1h-2zM832 295h2v1h-2zM663 295h1v2h-1zM834 296h2v1h-2zM1056 296h1v2h-1zM662 297h1v1h-1zM836 297h2v1h-2zM661 298h1v1h-1zM838 298h1v1h-1zM1055 298h1v2h-1zM660 299h1v1h-1zM839 299h2v1h-2zM659 300h1v1h-1zM841 300h1v1h-1zM1054 300h1v3h-1zM658 301h1v1h-1zM842 301h2v1h-2zM657 302h1v1h-1zM844 302h2v1h-2zM656 303h1v1h-1zM846 303h1v1h-1zM1053 303h1v3h-1zM847 304h2v1h-2zM655 304h1v2h-1zM849 305h2v1h-2zM654 306h1v1h-1zM851 306h1v1h-1zM1052 306h1v2h-1zM653 307h1v1h-1zM852 307h1v1h-1zM652 308h1v1h-1zM853 308h2v1h-2zM1050 308h2v1h-2zM651 309h1v1h-1zM855 309h1v1h-1zM1048 309h2v1h-2zM650 310h1v1h-1zM856 310h1v1h-1zM1047 310h1v1h-1zM649 311h1v1h-1zM857 311h2v1h-2zM1046 311h1v1h-1zM648 312h1v1h-1zM859 312h2v1h-2zM1045 312h1v1h-1zM861 313h2v1h-2zM1044 313h1v1h-1zM647 313h1v2h-1zM863 314h3v1h-3zM1043 314h1v1h-1zM646 315h1v1h-1zM866 315h2v1h-2zM1042 315h1v1h-1zM645 316h1v1h-1zM868 316h2v1h-2zM1041 316h1v1h-1zM644 317h1v1h-1zM870 317h2v1h-2zM1040 317h1v1h-1zM643 318h1v1h-1zM872 318h2v1h-2zM1038 318h2v1h-2zM874 319h2v1h-2zM1037 319h1v1h-1zM642 319h1v2h-1zM876 320h2v1h-2zM1036 320h1v1h-1zM878 321h2v1h-2zM1035 321h1v1h-1zM641 321h1v2h-1zM880 322h2v1h-2zM1031 322h4v1h-4zM882 323h3v1h-3zM969 323h29v1h-29zM1029 323h2v1h-2zM640 323h1v2h-1zM885 324h4v1h-4zM965 324h4v1h-4zM998 324h4v1h-4zM1021 324h8v1h-8zM639 325h1v1h-1zM889 325h4v1h-4zM919 325h46v1h-46zM1002 325h19v1h-19zM893 326h4v1h-4zM911 326h8v1h-8zM638 326h1v2h-1zM897 327h14v1h-14zM637 328h1v2h-1zM636 330h1v2h-1zM635 332h1v1h-1zM634 333h1v2h-1zM633 335h1v2h-1zM632 337h1v2h-1zM631 339h1v2h-1zM630 341h1v2h-1zM629 343h1v2h-1zM628 345h1v2h-1zM627 347h1v1h-1zM626 348h1v2h-1zM625 350h1v2h-1zM624 352h1v2h-1zM623 354h1v2h-1zM622 356h1v2h-1zM621 358h1v2h-1zM620 360h1v2h-1zM619 362h1v1h-1zM618 363h1v2h-1zM617 365h1v2h-1zM616 367h1v2h-1zM615 369h1v2h-1zM614 371h1v2h-1zM613 373h1v2h-1zM612 375h1v2h-1zM611 377h1v2h-1zM610 379h1v2h-1zM609 381h1v2h-1zM608 383h1v2h-1zM607 385h1v2h-1zM606 387h1v2h-1zM605 389h1v2h-1zM604 391h1v2h-1zM603 393h1v1h-1zM602 394h1v2h-1zM601 396h1v2h-1zM600 398h1v2h-1zM599 400h1v1h-1zM598 401h1v2h-1zM597 403h1v2h-1zM596 405h1v2h-1zM595 407h1v1h-1zM594 408h1v2h-1zM593 410h1v1h-1zM592 411h1v1h-1zM591 412h1v2h-1zM590 414h1v1h-1zM589 415h1v1h-1zM588 416h1v2h-1zM587 418h1v1h-1zM586 419h1v2h-1zM585 421h1v2h-1zM584 423h1v2h-1zM583 425h1v1h-1zM582 426h1v2h-1zM581 428h1v2h-1zM580 430h1v2h-1zM579 432h1v1h-1zM578 433h1v2h-1zM577 435h1v2h-1zM576 437h1v2h-1zM575 439h1v2h-1zM3 441h2v1h-2zM574 441h1v2h-1zM5 442h2v1h-2zM114 442h12v1h-12zM7 443h3v1h-3zM111 443h3v1h-3zM126 443h2v1h-2zM573 443h1v2h-1zM10 444h7v1h-7zM30 444h13v1h-13zM108 444h3v1h-3zM128 444h2v1h-2zM17 445h13v1h-13zM43 445h10v1h-10zM104 445h4v1h-4zM130 445h2v1h-2zM572 445h1v2h-1zM53 446h6v1h-6zM100 446h4v1h-4zM132 446h2v1h-2zM59 447h6v1h-6zM96 447h4v1h-4zM134 447h2v1h-2zM571 447h1v1h-1zM65 448h4v1h-4zM93 448h3v1h-3zM136 448h2v1h-2zM570 448h1v2h-1zM69 449h4v1h-4zM89 449h4v1h-4zM138 449h2v1h-2zM73 450h7v1h-7zM86 450h3v1h-3zM140 450h2v1h-2zM569 450h1v1h-1zM80 451h6v1h-6zM142 451h1v1h-1zM568 451h1v1h-1zM143 452h1v1h-1zM567 452h1v2h-1zM144 453h1v1h-1zM145 454h1v1h-1zM566 454h1v1h-1zM146 455h1v1h-1zM565 455h1v1h-1zM147 456h2v1h-2zM564 456h1v2h-1zM149 457h1v1h-1zM150 458h1v1h-1zM563 458h1v1h-1zM151 459h1v1h-1zM562 459h1v1h-1zM152 460h1v1h-1zM561 460h1v1h-1zM153 461h1v1h-1zM560 461h1v1h-1zM154 462h1v1h-1zM559 462h1v2h-1zM155 463h1v1h-1zM156 464h1v1h-1zM558 464h1v1h-1zM157 465h1v1h-1zM557 465h1v1h-1zM158 466h1v1h-1zM556 466h1v1h-1zM159 467h1v1h-1zM555 467h1v1h-1zM160 468h1v1h-1zM554 468h1v1h-1zM161 469h1v1h-1zM553 469h1v2h-1zM162 470h1v1h-1zM163 471h1v1h-1zM552 471h1v1h-1zM164 472h1v1h-1zM551 472h1v1h-1zM165 473h2v1h-2zM550 473h1v1h-1zM167 474h1v1h-1zM549 474h1v2h-1zM168 475h1v1h-1zM169 476h1v1h-1zM548 476h1v1h-1zM170 477h2v1h-2zM547 477h1v1h-1zM172 478h1v1h-1zM545 478h2v1h-2zM173 479h1v1h-1zM544 479h1v1h-1zM174 480h2v1h-2zM543 480h1v1h-1zM176 481h2v1h-2zM541 481h2v1h-2zM178 482h1v1h-1zM540 482h1v1h-1zM179 483h2v1h-2zM539 483h1v1h-1zM181 484h1v1h-1zM537 484h2v1h-2zM182 485h2v1h-2zM535 485h2v1h-2zM184 486h2v1h-2zM534 486h1v1h-1zM186 487h1v1h-1zM532 487h2v1h-2zM187 488h1v1h-1zM530 488h2v1h-2zM188 489h2v1h-2zM527 489h3v1h-3zM190 490h1v1h-1zM525 490h2v1h-2zM191 491h1v1h-1zM519 491h6v1h-6zM192 492h2v1h-2zM513 492h6v1h-6zM194 493h1v1h-1zM509 493h4v1h-4zM195 494h1v1h-1zM399 494h24v1h-24zM503 494h6v1h-6zM196 495h1v1h-1zM391 495h8v1h-8zM423 495h8v1h-8zM497 495h6v1h-6zM197 496h2v1h-2zM351 496h9v1h-9zM371 496h20v1h-20zM431 496h5v1h-5zM493 496h4v1h-4zM199 497h1v1h-1zM339 497h12v1h-12zM360 497h11v1h-11zM436 497h2v1h-2zM487 497h6v1h-6zM200 498h1v1h-1zM318 498h21v1h-21zM438 498h2v1h-2zM482 498h5v1h-5zM201 499h2v1h-2zM270 499h3v1h-3zM299 499h19v1h-19zM440 499h2v1h-2zM479 499h3v1h-3zM203 500h2v1h-2zM269 500h1v1h-1zM273 500h4v1h-4zM297 500h2v1h-2zM442 500h3v1h-3zM477 500h2v1h-2zM205 501h4v1h-4zM267 501h2v1h-2zM277 501h20v1h-20zM445 501h2v1h-2zM473 501h4v1h-4zM209 502h3v1h-3zM265 502h2v1h-2zM447 502h3v1h-3zM469 502h4v1h-4zM212 503h2v1h-2zM263 503h2v1h-2zM450 503h19v1h-19zM214 504h2v1h-2zM261 504h2v1h-2zM216 505h2v1h-2zM259 505h2v1h-2zM218 506h4v1h-4zM257 506h2v1h-2zM222 507h4v1h-4zM253 507h4v1h-4zM226 508h12v1h-12zM249 508h4v1h-4zM238 509h4v1h-4zM245 509h4v1h-4zM242 510h3v1h-3z" fill="#ff0000"/>
<path d="M1163 179h1v1h-1zM1162 180h1v1h-1zM1161 181h1v1h-1zM1160 182h1v1h-1zM1159 183h1v2h-1zM1158 185h1v1h-1zM1157 186h1v1h-1zM1156 187h1v1h-1zM1155 188h1v1h-1zM1154 189h1v1h-1zM1153 190h1v1h-1zM1152 191h1v1h-1zM1151 192h1v2h-1zM1150 194h1v1h-1zM1149 195h1v1h-1zM1148 196h1v1h-1zM1147 197h1v1h-1zM1146 198h1v1h-1zM1145 199h1v1h-1zM1144 200h1v1h-1zM1143 201h1v2h-1zM1142 203h1v1h-1zM1141 204h1v1h-1zM1140 205h1v1h-1zM1139 206h1v1h-1zM1138 207h1v1h-1zM1137 208h1v2h-1zM1136 210h1v1h-1zM1135 211h1v1h-1zM1134 212h1v1h-1zM1133 213h1v2h-1zM1132 215h1v1h-1zM1131 216h1v1h-1zM1130 217h1v1h-1zM1129 218h1v1h-1zM1128 219h1v1h-1zM1127 220h1v2h-1zM1126 222h1v1h-1zM1125 223h1v1h-1zM1124 224h1v1h-1zM1123 225h1v1h-1zM1122 226h1v1h-1zM1121 227h1v1h-1zM1120 228h1v1h-1zM1119 229h1v1h-1zM1118 230h1v1h-1zM1117 231h1v1h-1zM1116 232h1v1h-1zM1115 233h1v1h-1zM1114 234h1v1h-1zM1113 235h1v1h-1zM1112 236h1v1h-1zM1111 237h1v2h-1zM1110 239h1v1h-1zM1109 240h1v1h-1zM1108 241h1v1h-1zM1107 242h1v1h-1zM1106 243h1v1h-1zM1105 244h1v1h-1zM1104 245h1v1h-1zM1103 246h1v1h-1zM1102 247h1v1h-1zM1101 248h1v1h-1zM1100 249h1v1h-1zM1099 250h1v1h-1zM1098 251h1v1h-1zM1097 252h1v1h-1zM1096 253h1v1h-1zM1095 254h1v2h-1zM1094 256h1v1h-1zM1093 257h1v1h-1zM1092 258h1v1h-1zM1091 259h1v1h-1zM1090 260h1v2h-1zM1089 262h1v1h-1zM1088 263h1v2h-1zM1087 265h1v1h-1zM1086 266h1v2h-1zM1085 268h1v1h-1zM1084 269h1v2h-1zM1083 271h1v1h-1zM767 272h14v1h-14zM1082 272h1v1h-1zM759 273h8v1h-8zM781 273h4v1h-4zM1081 273h1v2h-1zM751 274h8v1h-8zM785 274h4v1h-4zM739 275h12v1h-12zM789 275h2v1h-2zM1080 275h1v1h-1zM737 276h2v1h-2zM791 276h3v1h-3zM1079 276h1v1h-1zM735 277h2v1h-2zM794 277h2v1h-2zM1078 277h1v1h-1zM734 278h1v1h-1zM796 278h2v1h-2zM1077 278h1v2h-1zM732 279h2v1h-2zM798 279h1v1h-1zM731 280h1v1h-1zM799 280h2v1h-2zM1076 280h1v1h-1zM729 281h2v1h-2zM801 281h2v1h-2zM1075 281h1v1h-1zM727 282h2v1h-2zM803 282h2v1h-2zM1074 282h1v1h-1zM726 283h1v1h-1zM805 283h4v1h-4zM1073 283h1v2h-1zM724 284h2v1h-2zM809 284h4v1h-4zM723 285h1v1h-1zM813 285h4v1h-4zM1072 285h1v1h-1zM721 286h2v1h-2zM817 286h6v1h-6zM1071 286h1v1h-1zM720 287h1v1h-1zM823 287h6v1h-6zM1070 287h1v1h-1zM719 288h1v1h-1zM829 288h4v1h-4zM1069 288h1v2h-1zM717 289h2v1h-2zM833 289h4v1h-4zM716 290h1v1h-1zM837 290h4v1h-4zM1068 290h1v1h-1zM715 291h1v1h-1zM841 291h3v1h-3zM1067 291h1v1h-1zM713 292h2v1h-2zM844 292h2v1h-2zM1066 292h1v1h-1zM712 293h1v1h-1zM846 293h2v1h-2zM1065 293h1v1h-1zM711 294h1v1h-1zM848 294h2v1h-2zM1064 294h1v1h-1zM709 295h2v1h-2zM850 295h2v1h-2zM1063 295h1v1h-1zM708 296h1v1h-1zM852 296h2v1h-2zM1062 296h1v1h-1zM707 297h1v1h-1zM854 297h2v1h-2zM1061 297h1v1h-1zM706 298h1v1h-1zM856 298h2v1h-2zM1060 298h1v1h-1zM705 299h1v1h-1zM858 299h3v1h-3zM1059 299h1v2h-1zM704 300h1v1h-1zM861 300h4v1h-4zM703 301h1v1h-1zM865 301h6v1h-6zM1058 301h1v2h-1zM702 302h1v1h-1zM871 302h6v1h-6zM701 303h1v1h-1zM877 303h2v1h-2zM1057 303h1v2h-1zM700 304h1v1h-1zM879 304h3v1h-3zM699 305h1v1h-1zM882 305h3v1h-3zM1056 305h1v2h-1zM698 306h1v1h-1zM885 306h4v1h-4zM697 307h1v1h-1zM889 307h4v1h-4zM1055 307h1v1h-1zM696 308h1v1h-1zM893 308h4v1h-4zM1054 308h1v2h-1zM897 309h4v1h-4zM695 309h1v2h-1zM901 310h2v1h-2zM1053 310h1v1h-1zM694 311h1v1h-1zM903 311h3v1h-3zM1052 311h1v1h-1zM693 312h1v1h-1zM906 312h3v1h-3zM1051 312h1v1h-1zM692 313h1v1h-1zM909 313h2v1h-2zM1050 313h1v1h-1zM691 314h1v1h-1zM911 314h3v1h-3zM1048 314h2v1h-2zM914 315h3v1h-3zM1046 315h2v1h-2zM690 315h1v2h-1zM917 316h4v1h-4zM1044 316h2v1h-2zM689 317h1v1h-1zM921 317h4v1h-4zM1042 317h2v1h-2zM688 318h1v1h-1zM925 318h2v1h-2zM1040 318h2v1h-2zM927 319h3v1h-3zM1038 319h2v1h-2zM687 319h1v2h-1zM930 320h3v1h-3zM1037 320h1v1h-1zM686 321h1v1h-1zM933 321h4v1h-4zM1033 321h4v1h-4zM685 322h1v1h-1zM937 322h4v1h-4zM1029 322h4v1h-4zM941 323h2v1h-2zM1023 323h6v1h-6zM684 323h1v2h-1zM943 324h3v1h-3zM1015 324h8v1h-8zM683 325h1v1h-1zM946 325h3v1h-3zM975 325h25v1h-25zM1007 325h8v1h-8zM682 326h1v1h-1zM949 326h4v1h-4zM967 326h8v1h-8zM1000 326h7v1h-7zM681 327h1v1h-1zM953 327h14v1h-14zM680 328h1v1h-1zM679 329h1v2h-1zM678 331h1v1h-1zM677 332h1v1h-1zM676 333h1v1h-1zM675 334h1v1h-1zM674 335h1v1h-1zM673 336h1v2h-1zM672 338h1v1h-1zM671 339h1v1h-1zM670 340h1v1h-1zM669 341h1v2h-1zM668 343h1v1h-1zM667 344h1v1h-1zM666 345h1v1h-1zM665 346h1v1h-1zM664 347h1v1h-1zM663 348h1v1h-1zM662 349h1v1h-1zM661 350h1v1h-1zM660 351h1v1h-1zM659 352h1v1h-1zM658 353h1v1h-1zM657 354h1v1h-1zM656 355h1v1h-1zM655 356h1v2h-1zM654 358h1v1h-1zM653 359h1v1h-1zM652 360h1v1h-1zM651 361h1v1h-1zM650 362h1v1h-1zM649 363h1v1h-1zM648 364h1v1h-1zM647 365h1v2h-1zM646 367h1v1h-1zM645 368h1v1h-1zM644 369h1v1h-1zM643 370h1v1h-1zM642 371h1v1h-1zM641 372h1v2h-1zM640 374h1v1h-1zM639 375h1v1h-1zM638 376h1v1h-1zM637 377h1v2h-1zM636 379h1v1h-1zM635 380h1v1h-1zM634 381h1v1h-1zM633 382h1v2h-1zM632 384h1v1h-1zM631 385h1v1h-1zM630 386h1v1h-1zM629 387h1v2h-1zM628 389h1v1h-1zM627 390h1v1h-1zM626 391h1v2h-1zM625 393h1v1h-1zM624 394h1v1h-1zM623 395h1v2h-1zM622 397h1v1h-1zM621 398h1v1h-1zM620 399h1v2h-1zM619 401h1v1h-1zM618 402h1v2h-1zM617 404h1v1h-1zM616 405h1v1h-1zM615 406h1v2h-1zM614 408h1v1h-1zM613 409h1v1h-1zM612 410h1v2h-1zM611 412h1v1h-1zM3 413h1v1h-1zM610 413h1v2h-1zM4 414h1v1h-1zM5 415h2v1h-2zM609 415h1v2h-1zM7 416h1v1h-1zM8 417h1v1h-1zM608 417h1v2h-1zM9 418h2v1h-2zM11 419h1v1h-1zM607 419h1v1h-1zM12 420h1v1h-1zM606 420h1v2h-1zM13 421h2v1h-2zM15 422h1v1h-1zM605 422h1v2h-1zM16 423h1v1h-1zM17 424h2v1h-2zM604 424h1v2h-1zM19 425h1v1h-1zM20 426h1v1h-1zM603 426h1v1h-1zM21 427h2v1h-2zM602 427h1v1h-1zM23 428h1v1h-1zM601 428h1v2h-1zM24 429h1v1h-1zM25 430h2v1h-2zM600 430h1v1h-1zM27 431h1v1h-1zM599 431h1v1h-1zM28 432h2v1h-2zM598 432h1v1h-1zM30 433h1v1h-1zM597 433h1v2h-1zM31 434h2v1h-2zM33 435h1v1h-1zM596 435h1v1h-1zM34 436h2v1h-2zM595 436h1v1h-1zM36 437h2v1h-2zM594 437h1v2h-1zM38 438h1v1h-1zM39 439h2v1h-2zM92 439h9v1h-9zM593 439h1v1h-1zM41 440h1v1h-1zM76 440h16v1h-16zM101 440h4v1h-4zM592 440h1v1h-1zM42 441h2v1h-2zM67 441h9v1h-9zM105 441h3v1h-3zM591 441h1v2h-1zM44 442h4v1h-4zM63 442h4v1h-4zM108 442h3v1h-3zM48 443h6v1h-6zM59 443h4v1h-4zM111 443h3v1h-3zM590 443h1v1h-1zM54 444h5v1h-5zM114 444h2v1h-2zM589 444h1v1h-1zM116 445h2v1h-2zM588 445h1v2h-1zM118 446h2v1h-2zM120 447h1v1h-1zM587 447h1v1h-1zM121 448h2v1h-2zM586 448h1v2h-1zM123 449h2v1h-2zM125 450h2v1h-2zM585 450h1v1h-1zM127 451h3v1h-3zM584 451h1v2h-1zM130 452h2v1h-2zM132 453h2v1h-2zM583 453h1v1h-1zM134 454h2v1h-2zM582 454h1v2h-1zM136 455h3v1h-3zM139 456h2v1h-2zM581 456h1v1h-1zM141 457h3v1h-3zM580 457h1v2h-1zM144 458h2v1h-2zM146 459h2v1h-2zM579 459h1v1h-1zM148 460h2v1h-2zM578 460h1v1h-1zM150 461h2v1h-2zM577 461h1v1h-1zM152 462h2v1h-2zM576 462h1v1h-1zM154 463h2v1h-2zM575 463h1v2h-1zM156 464h2v1h-2zM158 465h1v1h-1zM574 465h1v1h-1zM159 466h2v1h-2zM573 466h1v1h-1zM161 467h2v1h-2zM572 467h1v1h-1zM163 468h20v1h-20zM571 468h1v1h-1zM183 469h3v1h-3zM570 469h1v1h-1zM186 470h3v1h-3zM569 470h1v1h-1zM189 471h3v1h-3zM567 471h2v1h-2zM192 472h2v1h-2zM566 472h1v1h-1zM194 473h3v1h-3zM565 473h1v1h-1zM197 474h3v1h-3zM564 474h1v1h-1zM200 475h2v1h-2zM563 475h1v1h-1zM202 476h3v1h-3zM561 476h2v1h-2zM205 477h3v1h-3zM559 477h2v1h-2zM208 478h2v1h-2zM558 478h1v1h-1zM210 479h3v1h-3zM556 479h2v1h-2zM213 480h4v1h-4zM554 480h2v1h-2zM217 481h4v1h-4zM552 481h2v1h-2zM221 482h4v1h-4zM550 482h2v1h-2zM225 483h2v1h-2zM548 483h2v1h-2zM227 484h3v1h-3zM547 484h1v1h-1zM230 485h2v1h-2zM545 485h2v1h-2zM232 486h2v1h-2zM543 486h2v1h-2zM234 487h2v1h-2zM542 487h1v1h-1zM236 488h1v1h-1zM540 488h2v1h-2zM237 489h2v1h-2zM537 489h3v1h-3zM239 490h2v1h-2zM533 490h4v1h-4zM241 491h2v1h-2zM527 491h6v1h-6zM243 492h2v1h-2zM521 492h6v1h-6zM245 493h3v1h-3zM517 493h4v1h-4zM248 494h2v1h-2zM503 494h14v1h-14zM250 495h2v1h-2zM495 495h8v1h-8zM252 496h2v1h-2zM351 496h24v1h-24zM479 496h16v1h-16zM254 497h2v1h-2zM343 497h8v1h-8zM375 497h8v1h-8zM473 497h6v1h-6zM256 498h2v1h-2zM335 498h8v1h-8zM383 498h54v1h-54zM469 498h4v1h-4zM258 499h3v1h-3zM329 499h6v1h-6zM437 499h4v1h-4zM447 499h22v1h-22zM261 500h4v1h-4zM325 500h4v1h-4zM441 500h6v1h-6zM265 501h4v1h-4zM322 501h3v1h-3zM269 502h2v1h-2zM319 502h3v1h-3zM271 503h3v1h-3zM317 503h2v1h-2zM274 504h3v1h-3zM314 504h3v1h-3zM277 505h2v1h-2zM311 505h3v1h-3zM279 506h3v1h-3zM309 506h2v1h-2zM282 507h27v1h-27z" fill="#ffff00"/>
</g>
<g shape-rendering="crispEdges">
<rect x="3" y="88" width="1415" height="3" fill="#ff0000" />
<rect x="2" y="86" width="7" height="7" fill="#ff0000" />
<rect x="5" y="89" width="1" height="1" fill="#fff" />
<rect x="1412" y="86" width="7" height="7" fill="#ff0000" />
<rect x="1415" y="89" width="1" height="1" fill="#fff" />
<rect x="3" y="194" width="1415" height="3" fill="#00ff00" />
<rect x="2" y="192" width="7" height="7" fill="#00ff00" />
<rect x="5" y="195" width="1" height="1" fill="#fff" />
<rect x="1412" y="192" width="7" height="7" fill="#00ff00" />
<rect x="1415" y="195" width="1" height="1" fill="#fff" />
<rect x="3" y="300" width="1415" height="3" fill="#0000ff" />
<rect x="2" y="298" width="7" height="7" fill="#0000ff" />
<rect x="5" y="301" width="1" height="1" fill="#fff" />
<rect x="1412" y="298" width="7" height="7" fill="#0000ff" />
<rect x="1415" y="301" width="1" height="1" fill="#fff" />
<rect x="3" y="385" width="1415" height="3" fill="#0000ff" />
<rect x="3" y="452" width="1415" height="3" fill="#0000ff" />
<rect x="3" y="625" width="1" height="33" fill="#c0c0c0" />
<rect x="11" y="625" width="1" height="36" fill="#c0c0c0" />
<rect x="19" y="625" width="1" height="34" fill="#c0c0c0" />
<rect x="27" y="625" width="1" height="31" fill="#c0c0c0" />
<rect x="35" y="625" width="1" height="28" fill="#c0c0c0" />
<rect x="43" y="625" width="1" height="25" fill="#c0c0c0" />
<rect x="51" y="625" width="1" height="21" fill="#c0c0c0" />
<rect x="59" y="625" width="1" height="18" fill="#c0c0c0" />
<rect x="67" y="625" width="1" height="15" fill="#c0c0c0" />
<rect x="75" y="625" width="1" height="14" fill="#c0c0c0" />
<rect x="83" y="625" width="1" height="12" fill="#c0c0c0" />
<rect x="91" y="625" width="1" height="11" fill="#c0c0c0" />
<rect x="99" y="625" width="1" height="10" fill="#c0c0c0" />
<rect x="107" y="625" width="1" height="10" fill="#c0c0c0" />
<rect x="115" y="625" width="1" height="12" fill="#c0c0c0" />
<rect x="123" y="625" width="1" height="15" fill="#c0c0c0" />
<rect x="131" y="625" width="1" height="17" fill="#c0c0c0" />
<rect x="139" y="625" width="1" height="20" fill="#c0c0c0" />
<rect x="147" y="625" width="1" height="24" fill="#c0c0c0" />
<rect x="155" y="625" width="1" height="26" fill="#c0c0c0" />
<rect x="163" y="625" width="1" height="29" fill="#c0c0c0" />
<rect x="171" y="625" width="1" height="29" fill="#c0c0c0" />
<rect x="179" y="625" width="1" height="27" fill="#c0c0c0" />
<rect x="187" y="625" width="1" height="26" fill="#c0c0c0" />
<rect x="195" y="625" width="1" height="25" fill="#c0c0c0" />
<rect x="203" y="625" width="1" height="23" fill="#c0c0c0" />
<rect x="211" y="625" width="1" height="20" fill="#c0c0c0" />
<rect x="219" y="625" width="1" height="17" fill="#c0c0c0" />
<rect x="227" y="625" width="1" height="15" fill="#c0c0c0" />
<rect x="235" y="625" width="1" height="15" fill="#c0c0c0" />
<rect x="243" y="625" width="1" height="15" fill="#c0c0c0" />
<rect x="251" y="625" width="1" height="13" fill="#c0c0c0" />
<rect x="259" y="625" width="1" height="12" fill="#c0c0c0" />
<rect x="267" y="625" width="1" height="10" fill="#c0c0c0" />
<rect x="275" y="625" width="1" height="10" fill="#c0c0c0" />
<rect x="283" y="625" width="1" height="11" fill="#c0c0c0" />
<rect x="291" y="625" width="1" height="11" fill="#c0c0c0" />
<rect x="299" y="625" width="1" height="10" fill="#c0c0c0" />
<rect x="307" y="625" width="1" height="9" fill="#c0c0c0" />
<rect x="315" y="625" width="1" height="7" fill="#c0c0c0" />
<rect x="323" y="625" width="1" height="6" fill="#c0c0c0" />
<rect x="331" y="625" width="1" height="3" fill="#c0c0c0" />
<rect x="339" y="625" width="1" height="3" fill="#c0c0c0" />
<rect x="347" y="625" width="1" height="3" fill="#c0c0c0" />
<rect x="355" y="625" width="1" height="3" fill="#c0c0c0" />
<rect x="363" y="625" width="1" height="3" fill="#c0c0c0" />
<rect x="371" y="625" width="1" height="3" fill="#c0c0c0" />
<rect x="379" y="625" width="1" height="3" fill="#c0c0c0" />
<rect x="387" y="625" width="1" height="4" fill="#c0c0c0" />
<rect x="395" y="625" width="1" height="3" fill="#c0c0c0" />
<rect x="403" y="625" width="1" height="3" fill="#c0c0c0" />
<rect x="411" y="625" width="1" height="2" fill="#c0c0c0" />
<rect x="419" y="625" width="1" height="3" fill="#c0c0c0" />
<rect x="427" y="625" width="1" height="4" fill="#c0c0c0" />
<rect x="435" y="625" width="1" height="3" fill="#c0c0c0" />
<rect x="443" y="625" width="1" height="5" fill="#c0c0c0" />
<rect x="451" y="625" width="1" height="6" fill="#c0c0c0" />
<rect x="459" y="625" width="1" height="4" fill="#c0c0c0" />
<rect x="467" y="625" width="1" height="3" fill="#c0c0c0" />
<rect x="475" y="625" width="1" height="2" fill="#c0c0c0" />
<rect x="483" y="625" width="1" height="1" fill="#c0c0c0" />
<rect x="491" y="624" width="1" height="2" fill="#c0c0c0" />
<rect x="499" y="623" width="1" height="3" fill="#c0c0c0" />
<rect x="507" y="622" width="1" height="4" fill="#c0c0c0" />
<rect x="515" y="622" width="1" height="4" fill="#c0c0c0" />
<rect x="523" y="621" width="1" height="5" fill="#c0c0c0" />
<rect x="531" y="621" width="1" height="5" fill="#c0c0c0" />
<rect x="539" y="617" width="1" height="9" fill="#c0c0c0" />
<rect x="547" y="613" width="1" height="13" fill="#c0c0c0" />
<rect x="555" y="609" width="1" height="17" fill="#c0c0c0" />
<rect x="563" y="604" width="1" height="22" fill="#c0c0c0" />
<rect x="571" y="599" width="1" height="27" fill="#c0c0c0" />
<rect x="579" y="591" width="1" height="35" fill="#c0c0c0" />
<rect x="587" y="585" width="1" height="41" fill="#c0c0c0" />
<rect x="595" y="581" width="1" height="45" fill="#c0c0c0" />
<rect x="603" y="576" width="1" height="50" fill="#c0c0c0" />
<rect x="611" y="572" width="1" height="54" fill="#c0c0c0" />
<rect x="619" y="571" width="1" height="55" fill="#c0c0c0" />
<rect x="627" y="570" width="1" height="56" fill="#c0c0c0" />
<rect x="635" y="570" width="1" height="56" fill="#c0c0c0" />
<rect x="643" y="571" width="1" height="55" fill="#c0c0c0" />
<rect x="651" y="574" width="1" height="52" fill="#c0c0c0" />
<rect x="659" y="577" width="1" height="49" fill="#c0c0c0" />
<rect x="667" y="579" width="1" height="47" fill="#c0c0c0" />
<rect x="675" y="580" width="1" height="46" fill="#c0c0c0" />
<rect x="683" y="581" width="1" height="45" fill="#c0c0c0" />
<rect x="691" y="583" width="1" height="43" fill="#c0c0c0" />
<rect x="699" y="586" width="1" height="40" fill="#c0c0c0" />
<rect x="707" y="588" width="1" height="38" fill="#c0c0c0" />
<rect x="715" y="590" width="1" height="36" fill="#c0c0c0" />
<rect x="723" y="592" width="1" height="34" fill="#c0c0c0" />
<rect x="731" y="593" width="1" height="33" fill="#c0c0c0" />
<rect x="739" y="594" width="1" height="32" fill="#c0c0c0" />
<rect x="747" y="596" width="1" height="30" fill="#c0c0c0" />
<rect x="755" y="598" width="1" height="28" fill="#c0c0c0" />
<rect x="763" y="600" width="1" height="26" fill="#c0c0c0" />
<rect x="771" y="601" width="1" height="25" fill="#c0c0c0" />
<rect x="779" y="603" width="1" height="23" fill="#c0c0c0" />
<rect x="787" y="607" width="1" height="19" fill="#c0c0c0" />
<rect x="795" y="611" width="1" height="15" fill="#c0c0c0" />
<rect x="803" y="617" width="1" height="9" fill="#c0c0c0" />
<rect x="811" y="621" width="1" height="5" fill="#c0c0c0" />
<rect x="819" y="624" width="1" height="2" fill="#c0c0c0" />
<rect x="827" y="625" width="1" height="1" fill="#c0c0c0" />
<rect x="843" y="625" width="1" height="1" fill="#c0c0c0" />
<rect x="851" y="625" width="1" height="3" fill="#c0c0c0" />
<rect x="859" y="625" width="1" height="6" fill="#c0c0c0" />
<rect x="867" y="625" width="1" height="4" fill="#c0c0c0" />
<rect x="875" y="625" width="1" height="5" fill="#c0c0c0" />
<rect x="883" y="625" width="1" height="5" fill="#c0c0c0" />
<rect x="891" y="625" width="1" height="3" fill="#c0c0c0" />
<rect x="899" y="625" width="1" height="2" fill="#c0c0c0" />
<rect x="907" y="625" width="1" height="2" fill="#c0c0c0" />
<rect x="915" y="625" width="1" height="3" fill="#c0c0c0" />
<rect x="923" y="625" width="1" height="3" fill="#c0c0c0" />
<rect x="931" y="625" width="1" height="3" fill="#c0c0c0" />
<rect x="939" y="625" width="1" height="4" fill="#c0c0c0" />
<rect x="947" y="625" width="1" height="4" fill="#c0c0c0" />
<rect x="955" y="625" width="1" height="3" fill="#c0c0c0" />
<rect x="963" y="625" width="1" height="3" fill="#c0c0c0" />
<rect x="971" y="625" width="1" height="3" fill="#c0c0c0" />
<rect x="979" y="625" width="1" height="2" fill="#c0c0c0" />
<rect x="987" y="625" width="1" height="2" fill="#c0c0c0" />
<rect x="995" y="625" width="1" height="2" fill="#c0c0c0" />
<rect x="1003" y="625" width="1" height="2" fill="#c0c0c0" />
<rect x="1011" y="625" width="1" height="2" fill="#c0c0c0" />
<rect x="1019" y="625" width="1" height="1" fill="#c0c0c0" />
<rect x="1027" y="625" width="1" height="1" fill="#c0c0c0" />
<rect x="1035" y="624" width="1" height="2" fill="#c0c0c0" />
<rect x="1043" y="618" width="1" height="8" fill="#c0c0c0" />
<rect x="1051" y="612" width="1" height="14" fill="#c0c0c0" />
<rect x="1059" y="596" width="1" height="30" fill="#c0c0c0" />
<rect x="1067" y="589" width="1" height="37" fill="#c0c0c0" />
<rect x="1075" y="582" width="1" height="44" fill="#c0c0c0" />
<rect x="1083" y="577" width="1" height="49" fill="#c0c0c0" />
<rect x="1091" y="573" width="1" height="53" fill="#c0c0c0" />
<rect x="1099" y="570" width="1" height="56" fill="#c0c0c0" />
<rect x="1107" y="575" width="1" height="51" fill="#c0c0c0" />
<rect x="1115" y="577" width="1" height="49" fill="#c0c0c0" />
<rect x="1123" y="579" width="1" height="47" fill="#c0c0c0" />
<rect x="1131" y="581" width="1" height="45" fill="#c0c0c0" />
<rect x="1139" y="581" width="1" height="45" fill="#c0c0c0" />
<rect x="1147" y="582" width="1" height="44" fill="#c0c0c0" />
<rect x="1155" y="584" width="1" height="42" fill="#c0c0c0" />
<rect x="1163" y="585" width="1" height="41" fill="#c0c0c0" />
</g>
<g shape-rendering="crispEdges">
<path d="M665 572h1v1h-1zM669 572h3v1h-3zM657 573h3v1h-3zM663 573h2v1h-2zM675 573h3v1h-3zM647 574h1v1h-1zM651 574h3v1h-3zM681 574h3v1h-3zM645 575h2v1h-2zM687 575h3v1h-3zM640 576h2v1h-2zM693 576h3v1h-3zM1137 576h3v1h-3zM1143 576h3v1h-3zM1149 576h2v1h-2zM639 577h1v1h-1zM699 577h2v1h-2zM1131 577h3v1h-3zM1151 577h1v1h-1zM1155 577h3v1h-3zM701 578h1v1h-1zM1126 578h2v1h-2zM1161 578h3v1h-3zM634 579h2v1h-2zM705 579h3v1h-3zM1125 579h1v1h-1zM633 580h1v1h-1zM711 580h3v1h-3zM1120 580h2v1h-2zM629 581h1v1h-1zM717 581h2v1h-2zM1119 581h1v1h-1zM627 582h2v1h-2zM719 582h1v1h-1zM723 583h2v1h-2zM1114 583h2v1h-2zM623 584h1v1h-1zM725 584h1v1h-1zM1113 584h1v1h-1zM622 585h1v1h-1zM729 585h3v1h-3zM621 586h1v1h-1zM735 586h3v1h-3zM1109 586h1v1h-1zM741 587h3v1h-3zM1108 587h1v1h-1zM617 588h1v1h-1zM747 588h3v1h-3zM1107 588h1v1h-1zM615 589h2v1h-2zM753 589h1v1h-1zM754 590h2v1h-2zM759 591h3v1h-3zM1103 591h1v1h-1zM610 592h2v1h-2zM765 592h1v1h-1zM1101 592h2v1h-2zM609 593h1v1h-1zM766 593h2v1h-2zM771 594h3v1h-3zM604 595h2v1h-2zM777 595h3v1h-3zM1097 595h1v1h-1zM603 596h1v1h-1zM783 596h3v1h-3zM1096 596h1v1h-1zM789 597h1v1h-1zM1095 597h1v1h-1zM599 598h1v1h-1zM790 598h2v1h-2zM598 599h1v1h-1zM795 599h1v1h-1zM597 600h1v1h-1zM796 600h2v1h-2zM1091 600h1v1h-1zM801 601h1v1h-1zM1089 601h2v1h-2zM593 602h1v1h-1zM802 602h2v1h-2zM591 603h2v1h-2zM807 603h1v1h-1zM808 604h2v1h-2zM1085 604h1v1h-1zM813 605h1v1h-1zM1084 605h1v1h-1zM586 606h2v1h-2zM814 606h2v1h-2zM1083 606h1v1h-1zM585 607h1v1h-1zM819 608h1v1h-1zM580 609h2v1h-2zM820 609h2v1h-2zM1079 609h1v1h-1zM579 610h1v1h-1zM825 610h1v1h-1zM1077 610h2v1h-2zM826 611h2v1h-2zM573 612h3v1h-3zM831 612h1v1h-1zM832 613h2v1h-2zM1072 613h2v1h-2zM568 614h2v1h-2zM837 614h1v1h-1zM1071 614h1v1h-1zM567 615h1v1h-1zM838 615h2v1h-2zM561 616h3v1h-3zM843 616h1v1h-1zM1066 616h2v1h-2zM557 617h1v1h-1zM844 617h2v1h-2zM1065 617h1v1h-1zM555 618h2v1h-2zM549 619h3v1h-3zM849 619h1v1h-1zM1061 619h1v1h-1zM543 620h3v1h-3zM850 620h2v1h-2zM1059 620h2v1h-2zM537 621h3v1h-3zM855 621h1v1h-1zM533 622h1v1h-1zM856 622h2v1h-2zM1055 622h1v1h-1zM531 623h2v1h-2zM1053 623h2v1h-2zM525 624h3v1h-3zM861 624h1v1h-1zM514 625h2v1h-2zM519 625h3v1h-3zM862 625h2v1h-2zM867 625h3v1h-3zM1047 625h3v1h-3zM507 626h3v1h-3zM513 626h1v1h-1zM873 626h3v1h-3zM1041 626h3v1h-3zM501 627h3v1h-3zM879 627h3v1h-3zM885 627h1v1h-1zM1035 627h3v1h-3zM387 628h3v1h-3zM393 628h3v1h-3zM399 628h3v1h-3zM405 628h3v1h-3zM411 628h3v1h-3zM417 628h3v1h-3zM423 628h3v1h-3zM429 628h3v1h-3zM435 628h3v1h-3zM489 628h3v1h-3zM495 628h3v1h-3zM886 628h2v1h-2zM891 628h3v1h-3zM951 628h3v1h-3zM957 628h3v1h-3zM963 628h3v1h-3zM969 628h3v1h-3zM975 628h3v1h-3zM981 628h3v1h-3zM987 628h3v1h-3zM993 628h3v1h-3zM999 628h3v1h-3zM1005 628h3v1h-3zM1011 628h3v1h-3zM1017 628h3v1h-3zM1023 628h3v1h-3zM1029 628h3v1h-3zM370 629h2v1h-2zM375 629h3v1h-3zM381 629h3v1h-3zM441 629h3v1h-3zM447 629h3v1h-3zM453 629h3v1h-3zM459 629h3v1h-3zM465 629h3v1h-3zM471 629h3v1h-3zM477 629h3v1h-3zM483 629h3v1h-3zM897 629h3v1h-3zM903 629h3v1h-3zM909 629h3v1h-3zM915 629h3v1h-3zM921 629h3v1h-3zM927 629h3v1h-3zM933 629h3v1h-3zM939 629h3v1h-3zM945 629h3v1h-3zM363 630h3v1h-3zM369 630h1v1h-1zM351 631h3v1h-3zM357 631h3v1h-3zM341 632h1v1h-1zM345 632h3v1h-3zM339 633h2v1h-2zM327 634h3v1h-3zM333 634h3v1h-3zM315 635h3v1h-3zM321 635h3v1h-3zM291 637h3v1h-3zM297 637h3v1h-3zM303 637h3v1h-3zM309 637h3v1h-3zM117 638h3v1h-3zM123 638h3v1h-3zM129 638h3v1h-3zM135 638h3v1h-3zM141 638h1v1h-1zM111 639h3v1h-3zM142 639h2v1h-2zM279 639h3v1h-3zM285 639h3v1h-3zM105 640h3v1h-3zM147 640h3v1h-3zM267 640h3v1h-3zM273 640h3v1h-3zM99 641h3v1h-3zM153 641h3v1h-3zM262 641h2v1h-2zM95 642h1v1h-1zM159 642h3v1h-3zM261 642h1v1h-1zM93 643h2v1h-2zM165 643h2v1h-2zM255 643h3v1h-3zM88 644h2v1h-2zM167 644h1v1h-1zM249 644h3v1h-3zM87 645h1v1h-1zM171 645h2v1h-2zM238 645h2v1h-2zM243 645h3v1h-3zM82 646h2v1h-2zM173 646h1v1h-1zM232 646h2v1h-2zM237 646h1v1h-1zM81 647h1v1h-1zM177 647h2v1h-2zM226 647h2v1h-2zM231 647h1v1h-1zM76 648h2v1h-2zM179 648h1v1h-1zM183 648h2v1h-2zM221 648h1v1h-1zM225 648h1v1h-1zM75 649h1v1h-1zM185 649h1v1h-1zM189 649h3v1h-3zM215 649h1v1h-1zM219 649h2v1h-2zM70 650h2v1h-2zM195 650h3v1h-3zM201 650h3v1h-3zM207 650h3v1h-3zM213 650h2v1h-2zM65 651h1v1h-1zM69 651h1v1h-1zM59 652h1v1h-1zM63 652h2v1h-2zM53 653h1v1h-1zM57 653h2v1h-2zM3 654h3v1h-3zM9 654h1v1h-1zM47 654h1v1h-1zM51 654h2v1h-2zM10 655h2v1h-2zM15 655h3v1h-3zM21 655h3v1h-3zM27 655h3v1h-3zM33 655h3v1h-3zM39 655h3v1h-3zM45 655h2v1h-2z" fill="#ff0000"/>
</g>
<g shape-rendering="crispEdges">
<line x1="3" x2="1418" y1="708.5" y2="708.5" stroke="#c0c0c0" stroke-width="1" stroke-dasharray="3 3"/>
<line x1="3" x2="1418" y1="759.5" y2="759.5" stroke="#c0c0c0" stroke-width="1" stroke-dasharray="3 3"/>
</g>
<g shape-rendering="crispEdges">
<path d="M1059 684h1v2h-1zM1058 686h1v2h-1zM1060 686h1v3h-1zM1057 688h1v2h-1zM1061 689h1v3h-1zM1056 690h1v2h-1zM579 691h1v1h-1zM578 692h1v1h-1zM580 692h2v1h-2zM607 692h5v1h-5zM1055 692h1v2h-1zM1062 692h1v3h-1zM577 693h1v1h-1zM582 693h1v1h-1zM602 693h5v1h-5zM612 693h2v1h-2zM576 694h1v1h-1zM583 694h2v1h-2zM599 694h3v1h-3zM614 694h2v1h-2zM1054 694h1v2h-1zM585 695h2v1h-2zM597 695h2v1h-2zM616 695h2v1h-2zM575 695h1v2h-1zM1063 695h1v4h-1zM587 696h10v1h-10zM618 696h2v1h-2zM1053 696h1v2h-1zM574 697h1v1h-1zM620 697h2v1h-2zM573 698h1v1h-1zM622 698h2v1h-2zM633 698h3v1h-3zM1052 698h1v2h-1zM572 699h1v1h-1zM624 699h2v1h-2zM629 699h4v1h-4zM636 699h2v1h-2zM1064 699h1v3h-1zM567 700h5v1h-5zM626 700h3v1h-3zM638 700h1v1h-1zM1047 700h5v1h-5zM563 701h4v1h-4zM639 701h2v1h-2zM1044 701h3v1h-3zM1043 701h1v2h-1zM562 702h1v1h-1zM641 702h2v1h-2zM1065 702h1v3h-1zM561 703h1v1h-1zM643 703h1v1h-1zM1042 703h1v2h-1zM559 704h2v1h-2zM644 704h1v1h-1zM1095 704h4v1h-4zM1099 704h1v2h-1zM558 705h1v1h-1zM645 705h2v1h-2zM679 705h8v1h-8zM1074 705h5v1h-5zM1087 705h8v1h-8zM1041 705h1v2h-1zM1066 705h1v3h-1zM557 706h1v1h-1zM647 706h1v1h-1zM674 706h5v1h-5zM687 706h5v1h-5zM1072 706h2v1h-2zM1079 706h8v1h-8zM1100 706h1v2h-1zM556 707h1v1h-1zM648 707h1v1h-1zM671 707h3v1h-3zM692 707h1v1h-1zM1070 707h2v1h-2zM1040 707h1v2h-1zM553 708h3v1h-3zM649 708h2v1h-2zM669 708h2v1h-2zM693 708h1v1h-1zM730 708h10v1h-10zM1068 708h2v1h-2zM1067 708h1v2h-1zM1101 708h1v3h-1zM549 709h4v1h-4zM651 709h2v1h-2zM665 709h4v1h-4zM694 709h1v1h-1zM728 709h2v1h-2zM740 709h1v2h-1zM1039 709h1v3h-1zM545 710h4v1h-4zM653 710h4v1h-4zM661 710h4v1h-4zM726 710h2v1h-2zM695 710h1v2h-1zM541 711h4v1h-4zM657 711h4v1h-4zM724 711h2v1h-2zM741 711h1v1h-1zM1102 711h1v3h-1zM540 712h1v1h-1zM696 712h1v1h-1zM713 712h11v1h-11zM742 712h1v1h-1zM539 712h1v2h-1zM1038 712h1v2h-1zM697 713h1v1h-1zM709 713h4v1h-4zM743 713h1v2h-1zM698 714h1v1h-1zM703 714h6v1h-6zM538 714h1v2h-1zM1037 714h1v2h-1zM1103 714h1v2h-1zM699 715h4v1h-4zM744 715h1v1h-1zM745 716h1v1h-1zM767 716h8v1h-8zM537 716h1v2h-1zM1036 716h1v2h-1zM1104 716h1v3h-1zM759 717h8v1h-8zM775 717h4v1h-4zM1138 717h13v1h-13zM1159 717h5v1h-5zM746 717h1v2h-1zM779 717h1v2h-1zM751 718h8v1h-8zM1136 718h2v1h-2zM1151 718h8v1h-8zM536 718h1v2h-1zM1035 718h1v2h-1zM747 719h4v1h-4zM1134 719h2v1h-2zM780 719h1v2h-1zM1105 719h1v3h-1zM1034 720h1v1h-1zM1115 720h4v1h-4zM1132 720h2v1h-2zM535 720h1v2h-1zM1113 721h2v1h-2zM1119 721h13v1h-13zM1033 721h1v2h-1zM781 721h1v3h-1zM482 722h2v1h-2zM1111 722h2v1h-2zM534 722h1v2h-1zM1106 722h1v2h-1zM480 723h2v1h-2zM484 723h2v1h-2zM523 723h1v1h-1zM1032 723h1v1h-1zM1110 723h1v1h-1zM478 724h2v1h-2zM486 724h2v1h-2zM522 724h1v1h-1zM524 724h2v1h-2zM1031 724h1v1h-1zM1108 724h2v1h-2zM533 724h1v2h-1zM782 724h1v2h-1zM1107 724h1v2h-1zM476 725h2v1h-2zM488 725h2v1h-2zM521 725h1v1h-1zM526 725h1v1h-1zM1030 725h1v1h-1zM474 726h2v1h-2zM490 726h18v1h-18zM519 726h2v1h-2zM527 726h2v1h-2zM532 726h1v2h-1zM1029 726h1v2h-1zM783 726h1v3h-1zM471 727h3v1h-3zM508 727h2v1h-2zM518 727h1v1h-1zM529 727h2v1h-2zM1019 727h2v1h-2zM469 728h2v1h-2zM510 728h2v1h-2zM517 728h1v1h-1zM531 728h1v1h-1zM1018 728h1v1h-1zM1021 728h4v1h-4zM1028 728h1v1h-1zM323 729h9v1h-9zM466 729h3v1h-3zM512 729h2v1h-2zM516 729h1v1h-1zM1017 729h1v1h-1zM1025 729h3v1h-3zM784 729h1v2h-1zM321 730h2v1h-2zM332 730h1v1h-1zM464 730h2v1h-2zM514 730h2v1h-2zM891 730h2v1h-2zM1015 730h2v1h-2zM66 731h2v1h-2zM319 731h2v1h-2zM333 731h2v1h-2zM410 731h2v1h-2zM462 731h2v1h-2zM890 731h1v1h-1zM893 731h2v1h-2zM905 731h3v1h-3zM1014 731h1v1h-1zM785 731h1v3h-1zM64 732h2v1h-2zM68 732h1v1h-1zM299 732h1v1h-1zM318 732h1v1h-1zM335 732h1v1h-1zM354 732h2v1h-2zM408 732h2v1h-2zM412 732h1v1h-1zM460 732h2v1h-2zM895 732h3v1h-3zM901 732h4v1h-4zM908 732h1v1h-1zM1013 732h1v1h-1zM889 732h1v2h-1zM62 733h2v1h-2zM69 733h1v1h-1zM298 733h1v1h-1zM300 733h2v1h-2zM316 733h2v1h-2zM336 733h1v1h-1zM351 733h3v1h-3zM356 733h1v1h-1zM406 733h2v1h-2zM413 733h1v1h-1zM459 733h1v1h-1zM898 733h3v1h-3zM909 733h1v1h-1zM983 733h5v1h-5zM1012 733h1v1h-1zM60 734h2v1h-2zM70 734h1v1h-1zM297 734h1v1h-1zM302 734h1v1h-1zM314 734h2v1h-2zM337 734h2v1h-2zM349 734h2v1h-2zM357 734h2v1h-2zM404 734h2v1h-2zM414 734h1v1h-1zM457 734h2v1h-2zM888 734h1v1h-1zM910 734h1v1h-1zM971 734h12v1h-12zM988 734h2v1h-2zM1011 734h1v1h-1zM786 734h1v2h-1zM50 735h10v1h-10zM71 735h1v1h-1zM82 735h5v1h-5zM211 735h4v1h-4zM295 735h2v1h-2zM303 735h2v1h-2zM311 735h3v1h-3zM339 735h10v1h-10zM359 735h1v1h-1zM387 735h17v1h-17zM455 735h2v1h-2zM887 735h1v1h-1zM946 735h3v1h-3zM969 735h2v1h-2zM990 735h1v1h-1zM1009 735h2v1h-2zM415 735h1v2h-1zM911 735h1v2h-1zM47 736h3v1h-3zM72 736h1v1h-1zM80 736h2v1h-2zM87 736h6v1h-6zM210 736h1v1h-1zM215 736h13v1h-13zM294 736h1v1h-1zM305 736h2v1h-2zM309 736h2v1h-2zM360 736h1v1h-1zM385 736h2v1h-2zM435 736h1v1h-1zM454 736h1v1h-1zM867 736h9v1h-9zM886 736h1v1h-1zM929 736h4v1h-4zM944 736h2v1h-2zM949 736h4v1h-4zM967 736h2v1h-2zM991 736h2v1h-2zM1008 736h1v1h-1zM787 736h1v2h-1zM45 737h2v1h-2zM73 737h1v1h-1zM78 737h2v1h-2zM93 737h4v1h-4zM209 737h1v1h-1zM228 737h1v1h-1zM251 737h2v1h-2zM266 737h5v1h-5zM293 737h1v1h-1zM307 737h2v1h-2zM361 737h2v1h-2zM367 737h6v1h-6zM383 737h2v1h-2zM416 737h1v1h-1zM433 737h2v1h-2zM452 737h2v1h-2zM788 737h3v1h-3zM876 737h2v1h-2zM912 737h1v1h-1zM925 737h4v1h-4zM933 737h2v1h-2zM942 737h2v1h-2zM953 737h4v1h-4zM966 737h1v1h-1zM993 737h2v1h-2zM1007 737h1v1h-1zM436 737h1v2h-1zM866 737h1v2h-1zM885 737h1v2h-1zM27 738h1v1h-1zM42 738h3v1h-3zM74 738h1v1h-1zM76 738h2v1h-2zM97 738h11v1h-11zM207 738h2v1h-2zM229 738h1v1h-1zM250 738h1v1h-1zM253 738h2v1h-2zM263 738h3v1h-3zM271 738h5v1h-5zM292 738h1v1h-1zM363 738h4v1h-4zM373 738h2v1h-2zM382 738h1v1h-1zM417 738h1v1h-1zM431 738h2v1h-2zM451 738h1v1h-1zM791 738h5v1h-5zM826 738h10v1h-10zM878 738h2v1h-2zM913 738h1v1h-1zM921 738h4v1h-4zM935 738h3v1h-3zM940 738h2v1h-2zM957 738h4v1h-4zM964 738h2v1h-2zM995 738h2v1h-2zM1005 738h2v1h-2zM25 739h2v1h-2zM28 739h2v1h-2zM40 739h2v1h-2zM75 739h1v1h-1zM108 739h1v1h-1zM206 739h1v1h-1zM230 739h1v1h-1zM249 739h1v1h-1zM255 739h3v1h-3zM261 739h2v1h-2zM291 739h1v1h-1zM375 739h3v1h-3zM380 739h2v1h-2zM418 739h1v1h-1zM430 739h1v1h-1zM824 739h2v1h-2zM836 739h2v1h-2zM880 739h2v1h-2zM884 739h1v1h-1zM914 739h1v1h-1zM917 739h4v1h-4zM938 739h2v1h-2zM961 739h3v1h-3zM997 739h4v1h-4zM1004 739h1v1h-1zM276 739h1v2h-1zM437 739h1v2h-1zM450 739h1v2h-1zM796 739h1v2h-1zM865 739h1v2h-1zM23 740h2v1h-2zM30 740h2v1h-2zM38 740h2v1h-2zM109 740h1v1h-1zM205 740h1v1h-1zM231 740h2v1h-2zM248 740h1v1h-1zM258 740h3v1h-3zM290 740h1v1h-1zM378 740h2v1h-2zM419 740h4v1h-4zM428 740h2v1h-2zM822 740h2v1h-2zM838 740h2v1h-2zM882 740h2v1h-2zM915 740h2v1h-2zM1001 740h3v1h-3zM22 741h1v1h-1zM32 741h2v1h-2zM36 741h2v1h-2zM110 741h1v1h-1zM204 741h1v1h-1zM233 741h1v1h-1zM247 741h1v1h-1zM277 741h1v1h-1zM423 741h5v1h-5zM449 741h1v1h-1zM797 741h1v1h-1zM820 741h2v1h-2zM840 741h2v1h-2zM864 741h1v1h-1zM289 741h1v2h-1zM438 741h1v2h-1zM20 742h2v1h-2zM34 742h2v1h-2zM111 742h1v1h-1zM179 742h2v1h-2zM202 742h2v1h-2zM234 742h1v1h-1zM246 742h1v1h-1zM278 742h1v1h-1zM819 742h1v1h-1zM842 742h3v1h-3zM448 742h1v2h-1zM798 742h1v2h-1zM863 742h1v2h-1zM112 743h1v1h-1zM178 743h1v1h-1zM181 743h2v1h-2zM200 743h2v1h-2zM235 743h2v1h-2zM245 743h1v1h-1zM288 743h1v1h-1zM439 743h1v1h-1zM817 743h2v1h-2zM845 743h4v1h-4zM19 743h1v2h-1zM279 743h1v2h-1zM113 744h1v1h-1zM177 744h1v1h-1zM183 744h3v1h-3zM198 744h2v1h-2zM237 744h4v1h-4zM244 744h1v1h-1zM287 744h1v1h-1zM447 744h1v1h-1zM799 744h1v1h-1zM815 744h2v1h-2zM849 744h3v1h-3zM862 744h1v1h-1zM440 744h1v2h-1zM114 745h1v1h-1zM176 745h1v1h-1zM186 745h5v1h-5zM196 745h2v1h-2zM241 745h3v1h-3zM280 745h1v1h-1zM286 745h1v1h-1zM814 745h1v1h-1zM852 745h2v1h-2zM18 745h1v2h-1zM446 745h1v2h-1zM800 745h1v2h-1zM861 745h1v2h-1zM115 746h1v1h-1zM191 746h5v1h-5zM281 746h1v1h-1zM812 746h2v1h-2zM854 746h1v1h-1zM175 746h1v2h-1zM285 746h1v2h-1zM441 746h1v2h-1zM116 747h1v1h-1zM445 747h1v1h-1zM801 747h1v1h-1zM810 747h2v1h-2zM855 747h2v1h-2zM17 747h1v2h-1zM282 747h1v2h-1zM860 747h1v2h-1zM117 748h2v1h-2zM130 748h2v1h-2zM174 748h1v1h-1zM284 748h1v1h-1zM807 748h3v1h-3zM857 748h2v1h-2zM442 748h1v2h-1zM444 748h1v2h-1zM802 748h1v2h-1zM119 749h1v1h-1zM128 749h2v1h-2zM132 749h2v1h-2zM173 749h1v1h-1zM283 749h1v1h-1zM805 749h2v1h-2zM859 749h1v1h-1zM16 749h1v3h-1zM120 750h1v1h-1zM126 750h2v1h-2zM134 750h2v1h-2zM172 750h1v1h-1zM443 750h1v1h-1zM803 750h2v1h-2zM121 751h2v1h-2zM124 751h2v1h-2zM136 751h2v1h-2zM171 751h1v1h-1zM123 752h1v1h-1zM138 752h2v1h-2zM170 752h1v1h-1zM15 752h1v2h-1zM140 753h2v1h-2zM169 753h1v1h-1zM142 754h2v1h-2zM167 754h2v1h-2zM14 754h1v3h-1zM144 755h2v1h-2zM166 755h1v1h-1zM146 756h11v1h-11zM165 756h1v1h-1zM157 757h4v1h-4zM164 757h1v1h-1zM13 757h1v2h-1zM161 758h3v1h-3zM12 759h1v2h-1zM11 761h1v2h-1zM7 762h4v1h-4zM3 763h4v1h-4z" fill="#1e90ff"/>
</g>
<polygon points="3,793 3,798 8,798" fill="#c0c0c0"/>
<polygon points="1128.4,23 1138.4,23 1133.4,28" fill="#b4b4b4"/>
<g shape-rendering="crispEdges">
<rect x="1419" y="30" width="2" height="1" fill="#000" />
<rect x="1419" y="63" width="2" height="1" fill="#000" />
<rect x="1419" y="96" width="2" height="1" fill="#000" />
<rect x="1419" y="129" width="2" height="1" fill="#000" />
<rect x="1419" y="162" width="2" height="1" fill="#000" />
<rect x="1419" y="229" width="2" height="1" fill="#000" />
<rect x="1419" y="261" width="2" height="1" fill="#000" />
<rect x="1419" y="295" width="2" height="1" fill="#000" />
<rect x="1419" y="327" width="2" height="1" fill="#000" />
<rect x="1419" y="360" width="2" height="1" fill="#000" />
<rect x="1419" y="393" width="2" height="1" fill="#000" />
<rect x="1419" y="426" width="2" height="1" fill="#000" />
<rect x="1419" y="459" width="2" height="1" fill="#000" />
<rect x="1419" y="492" width="2" height="1" fill="#000" />
<rect x="1419" y="526" width="2" height="1" fill="#000" />
<rect x="1419" y="558" width="2" height="1" fill="#000" />
</g>
<text x="1424.5" y="33.7" font-size="9.8" fill="#000" textLength="32.4" lengthAdjust="spacingAndGlyphs" text-rendering="geometricPrecision" stroke="#000" stroke-width="0.15" >7.15590</text>
<text x="1424.5" y="66.7" font-size="9.8" fill="#000" textLength="32.4" lengthAdjust="spacingAndGlyphs" text-rendering="geometricPrecision" stroke="#000" stroke-width="0.15" >7.12530</text>
<text x="1424.5" y="99.7" font-size="9.8" fill="#000" textLength="32.4" lengthAdjust="spacingAndGlyphs" text-rendering="geometricPrecision" stroke="#000" stroke-width="0.15" >7.09380</text>
<text x="1424.5" y="132.7" font-size="9.8" fill="#000" textLength="32.4" lengthAdjust="spacingAndGlyphs" text-rendering="geometricPrecision" stroke="#000" stroke-width="0.15" >7.06320</text>
<text x="1424.5" y="165.7" font-size="9.8" fill="#000" textLength="32.4" lengthAdjust="spacingAndGlyphs" text-rendering="geometricPrecision" stroke="#000" stroke-width="0.15" >7.03170</text>
<text x="1424.5" y="232.7" font-size="9.8" fill="#000" textLength="32.4" lengthAdjust="spacingAndGlyphs" text-rendering="geometricPrecision" stroke="#000" stroke-width="0.15" >6.96960</text>
<text x="1424.5" y="264.7" font-size="9.8" fill="#000" textLength="32.4" lengthAdjust="spacingAndGlyphs" text-rendering="geometricPrecision" stroke="#000" stroke-width="0.15" >6.93900</text>
<text x="1424.5" y="298.7" font-size="9.8" fill="#000" textLength="32.4" lengthAdjust="spacingAndGlyphs" text-rendering="geometricPrecision" stroke="#000" stroke-width="0.15" >6.90750</text>
<text x="1424.5" y="330.7" font-size="9.8" fill="#000" textLength="32.4" lengthAdjust="spacingAndGlyphs" text-rendering="geometricPrecision" stroke="#000" stroke-width="0.15" >6.87690</text>
<text x="1424.5" y="363.7" font-size="9.8" fill="#000" textLength="32.4" lengthAdjust="spacingAndGlyphs" text-rendering="geometricPrecision" stroke="#000" stroke-width="0.15" >6.84630</text>
<text x="1424.5" y="396.7" font-size="9.8" fill="#000" textLength="32.4" lengthAdjust="spacingAndGlyphs" text-rendering="geometricPrecision" stroke="#000" stroke-width="0.15" >6.81480</text>
<text x="1424.5" y="429.7" font-size="9.8" fill="#000" textLength="32.4" lengthAdjust="spacingAndGlyphs" text-rendering="geometricPrecision" stroke="#000" stroke-width="0.15" >6.78420</text>
<text x="1424.5" y="462.7" font-size="9.8" fill="#000" textLength="32.4" lengthAdjust="spacingAndGlyphs" text-rendering="geometricPrecision" stroke="#000" stroke-width="0.15" >6.75270</text>
<text x="1424.5" y="495.7" font-size="9.8" fill="#000" textLength="32.4" lengthAdjust="spacingAndGlyphs" text-rendering="geometricPrecision" stroke="#000" stroke-width="0.15" >6.72210</text>
<text x="1424.5" y="529.7" font-size="9.8" fill="#000" textLength="32.4" lengthAdjust="spacingAndGlyphs" text-rendering="geometricPrecision" stroke="#000" stroke-width="0.15" >6.69060</text>
<text x="1424.5" y="561.7" font-size="9.8" fill="#000" textLength="32.4" lengthAdjust="spacingAndGlyphs" text-rendering="geometricPrecision" stroke="#000" stroke-width="0.15" >6.66000</text>
<g shape-rendering="crispEdges">
<rect x="1420" y="83" width="40" height="11" fill="#ff0000" />
<rect x="1420" y="189" width="40" height="11" fill="#00ff00" />
<rect x="1420" y="295" width="40" height="11" fill="#0000ff" />
<rect x="1420" y="380" width="40" height="11" fill="#0000ff" />
<rect x="1420" y="447" width="40" height="11" fill="#0000ff" />
<rect x="1420" y="115" width="40" height="11" fill="#000" />
</g>
<text x="1424.5" y="92.2" font-size="9.8" fill="#fff" textLength="32.4" lengthAdjust="spacingAndGlyphs" text-rendering="geometricPrecision" stroke="#fff" stroke-width="0.15" >7.10044</text>
<text x="1424.5" y="198.2" font-size="9.8" fill="#fff" textLength="32.4" lengthAdjust="spacingAndGlyphs" text-rendering="geometricPrecision" stroke="#fff" stroke-width="0.15" >7.00092</text>
<text x="1424.5" y="304.2" font-size="9.8" fill="#fff" textLength="32.4" lengthAdjust="spacingAndGlyphs" text-rendering="geometricPrecision" stroke="#fff" stroke-width="0.15" >6.90100</text>
<text x="1424.5" y="389.2" font-size="9.8" fill="#fff" textLength="32.4" lengthAdjust="spacingAndGlyphs" text-rendering="geometricPrecision" stroke="#fff" stroke-width="0.15" >6.82103</text>
<text x="1424.5" y="456.2" font-size="9.8" fill="#fff" textLength="32.4" lengthAdjust="spacingAndGlyphs" text-rendering="geometricPrecision" stroke="#fff" stroke-width="0.15" >6.75804</text>
<text x="1424.5" y="124.2" font-size="9.8" fill="#fff" textLength="32.4" lengthAdjust="spacingAndGlyphs" text-rendering="geometricPrecision" stroke="#fff" stroke-width="0.15" >7.07170</text>
<g shape-rendering="crispEdges">
<rect x="1419" y="565" width="1" height="1" fill="#000" />
<rect x="1419" y="665" width="1" height="1" fill="#000" />
<rect x="1419" y="670" width="1" height="1" fill="#000" />
<rect x="1419" y="796" width="1" height="1" fill="#000" />
<rect x="1419" y="625" width="2" height="1" fill="#000" />
</g>
<text x="1422.5" y="574" font-size="9.8" fill="#000" textLength="38.5" lengthAdjust="spacingAndGlyphs" text-rendering="geometricPrecision" stroke="#000" stroke-width="0.15" >0.060343</text>
<text x="1422.5" y="628.8" font-size="9.8" fill="#000" textLength="17.5" lengthAdjust="spacingAndGlyphs" text-rendering="geometricPrecision" stroke="#000" stroke-width="0.15" >0.00</text>
<text x="1422.5" y="663" font-size="9.8" fill="#000" textLength="41.5" lengthAdjust="spacingAndGlyphs" text-rendering="geometricPrecision" stroke="#000" stroke-width="0.15" >-0.040136</text>
<text x="1422.5" y="678.6" font-size="9.8" fill="#000" textLength="14" lengthAdjust="spacingAndGlyphs" text-rendering="geometricPrecision" stroke="#000" stroke-width="0.15" >100</text>
<text x="1421.5" y="711.8" font-size="9.8" fill="#000" textLength="9.6" lengthAdjust="spacingAndGlyphs" text-rendering="geometricPrecision" stroke="#000" stroke-width="0.15" >70</text>
<text x="1421.5" y="762.8" font-size="9.8" fill="#000" textLength="9.6" lengthAdjust="spacingAndGlyphs" text-rendering="geometricPrecision" stroke="#000" stroke-width="0.15" >30</text>
<text x="1422.5" y="795" font-size="9.8" fill="#000" textLength="4.8" lengthAdjust="spacingAndGlyphs" text-rendering="geometricPrecision" stroke="#000" stroke-width="0.15" >0</text>
<text x="18.4" y="34.0" font-size="9.8" fill="#000" textLength="68.2" lengthAdjust="spacingAndGlyphs" text-rendering="geometricPrecision" stroke="#000" stroke-width="0.15" >USDCNH-,Daily</text>
<text x="93" y="34.0" font-size="9.8" fill="#000" textLength="32.6" lengthAdjust="spacingAndGlyphs" text-rendering="geometricPrecision" stroke="#000" stroke-width="0.15" >7.06543</text>
<text x="129.2" y="34.0" font-size="9.8" fill="#000" textLength="32.6" lengthAdjust="spacingAndGlyphs" text-rendering="geometricPrecision" stroke="#000" stroke-width="0.15" >7.07324</text>
<text x="165.2" y="34.0" font-size="9.8" fill="#000" textLength="32.6" lengthAdjust="spacingAndGlyphs" text-rendering="geometricPrecision" stroke="#000" stroke-width="0.15" >7.06543</text>
<text x="201.4" y="34.0" font-size="9.8" fill="#000" textLength="32.6" lengthAdjust="spacingAndGlyphs" text-rendering="geometricPrecision" stroke="#000" stroke-width="0.15" >7.07170</text>
<polygon points="5.8,32.8 12.8,32.8 9.3,28.4" fill="#000"/>
<text x="7.7" y="575.7" font-size="9.8" fill="#000" textLength="147" lengthAdjust="spacingAndGlyphs" text-rendering="geometricPrecision" stroke="#000" stroke-width="0.15" >MACD(12,26,9) 0.041236 0.046571</text>
<text x="7.7" y="680.8" font-size="9.8" fill="#000" textLength="67.3" lengthAdjust="spacingAndGlyphs" text-rendering="geometricPrecision" stroke="#000" stroke-width="0.15" >RSI(14) 62.6774</text>
<g shape-rendering="crispEdges">
<rect x="3" y="799" width="1" height="3" fill="#000" />
<rect x="67" y="799" width="1" height="3" fill="#000" />
<rect x="131" y="799" width="1" height="3" fill="#000" />
<rect x="195" y="799" width="1" height="3" fill="#000" />
<rect x="259" y="799" width="1" height="3" fill="#000" />
<rect x="323" y="799" width="1" height="3" fill="#000" />
<rect x="387" y="799" width="1" height="3" fill="#000" />
<rect x="451" y="799" width="1" height="3" fill="#000" />
<rect x="515" y="799" width="1" height="3" fill="#000" />
<rect x="579" y="799" width="1" height="3" fill="#000" />
<rect x="643" y="799" width="1" height="3" fill="#000" />
<rect x="707" y="799" width="1" height="3" fill="#000" />
<rect x="771" y="799" width="1" height="3" fill="#000" />
<rect x="835" y="799" width="1" height="3" fill="#000" />
<rect x="899" y="799" width="1" height="3" fill="#000" />
<rect x="963" y="799" width="1" height="3" fill="#000" />
<rect x="1027" y="799" width="1" height="3" fill="#000" />
<rect x="1091" y="799" width="1" height="3" fill="#000" />
<rect x="1155" y="799" width="1" height="3" fill="#000" />
</g>
<text x="2.3" y="811" font-size="9.8" fill="#000" textLength="50.5" lengthAdjust="spacingAndGlyphs" text-rendering="geometricPrecision" stroke="#000" stroke-width="0.15" >30 Jan 2019</text>
<text x="66.3" y="811" font-size="9.8" fill="#000" textLength="51.5" lengthAdjust="spacingAndGlyphs" text-rendering="geometricPrecision" stroke="#000" stroke-width="0.15" >11 Feb 2019</text>
<text x="130.3" y="811" font-size="9.8" fill="#000" textLength="51.5" lengthAdjust="spacingAndGlyphs" text-rendering="geometricPrecision" stroke="#000" stroke-width="0.15" >21 Feb 2019</text>
<text x="194.3" y="811" font-size="9.8" fill="#000" textLength="47" lengthAdjust="spacingAndGlyphs" text-rendering="geometricPrecision" stroke="#000" stroke-width="0.15" >5 Mar 2019</text>
<text x="258.3" y="811" font-size="9.8" fill="#000" textLength="51.5" lengthAdjust="spacingAndGlyphs" text-rendering="geometricPrecision" stroke="#000" stroke-width="0.15" >15 Mar 2019</text>
<text x="322.3" y="811" font-size="9.8" fill="#000" textLength="51.5" lengthAdjust="spacingAndGlyphs" text-rendering="geometricPrecision" stroke="#000" stroke-width="0.15" >27 Mar 2019</text>
<text x="386.3" y="811" font-size="9.8" fill="#000" textLength="45.5" lengthAdjust="spacingAndGlyphs" text-rendering="geometricPrecision" stroke="#000" stroke-width="0.15" >8 Apr 2019</text>
<text x="450.3" y="811" font-size="9.8" fill="#000" textLength="50.5" lengthAdjust="spacingAndGlyphs" text-rendering="geometricPrecision" stroke="#000" stroke-width="0.15" >18 Apr 2019</text>
<text x="514.3" y="811" font-size="9.8" fill="#000" textLength="49" lengthAdjust="spacingAndGlyphs" text-rendering="geometricPrecision" stroke="#000" stroke-width="0.15" >1 May 2019</text>
<text x="578.3" y="811" font-size="9.8" fill="#000" textLength="54" lengthAdjust="spacingAndGlyphs" text-rendering="geometricPrecision" stroke="#000" stroke-width="0.15" >13 May 2019</text>
<text x="642.3" y="811" font-size="9.8" fill="#000" textLength="54" lengthAdjust="spacingAndGlyphs" text-rendering="geometricPrecision" stroke="#000" stroke-width="0.15" >23 May 2019</text>
<text x="706.3" y="811" font-size="9.8" fill="#000" textLength="45.5" lengthAdjust="spacingAndGlyphs" text-rendering="geometricPrecision" stroke="#000" stroke-width="0.15" >4 Jun 2019</text>
<text x="770.3" y="811" font-size="9.8" fill="#000" textLength="49.5" lengthAdjust="spacingAndGlyphs" text-rendering="geometricPrecision" stroke="#000" stroke-width="0.15" >14 Jun 2019</text>
<text x="834.3" y="811" font-size="9.8" fill="#000" textLength="49.5" lengthAdjust="spacingAndGlyphs" text-rendering="geometricPrecision" stroke="#000" stroke-width="0.15" >26 Jun 2019</text>
<text x="898.3" y="811" font-size="9.8" fill="#000" textLength="41.5" lengthAdjust="spacingAndGlyphs" text-rendering="geometricPrecision" stroke="#000" stroke-width="0.15" >8 Jul 2019</text>
<text x="962.3" y="811" font-size="9.8" fill="#000" textLength="46.5" lengthAdjust="spacingAndGlyphs" text-rendering="geometricPrecision" stroke="#000" stroke-width="0.15" >18 Jul 2019</text>
<text x="1026.3" y="811" font-size="9.8" fill="#000" textLength="46.5" lengthAdjust="spacingAndGlyphs" text-rendering="geometricPrecision" stroke="#000" stroke-width="0.15" >30 Jul 2019</text>
<text x="1090.3" y="811" font-size="9.8" fill="#000" textLength="47.5" lengthAdjust="spacingAndGlyphs" text-rendering="geometricPrecision" stroke="#000" stroke-width="0.15" >9 Aug 2019</text>
<text x="1154.3" y="811" font-size="9.8" fill="#000" textLength="52" lengthAdjust="spacingAndGlyphs" text-rendering="geometricPrecision" stroke="#000" stroke-width="0.15" >21 Aug 2019</text>
<g shape-rendering="crispEdges">
<rect x="0" y="820" width="1460" height="1" fill="#e3e3e3" />
<rect x="0" y="821" width="1460" height="1" fill="#4a4a4a" />
<rect x="0" y="822" width="1460" height="19" fill="#f0f0f0" />
<rect x="0" y="841" width="1460" height="1" fill="#fbfbfb" />
<rect x="0" y="842" width="1460" height="3" fill="#ededed" />
<rect x="437" y="820" width="110" height="19" fill="#fff" />
<rect x="436" y="821" width="1" height="19" fill="#000" />
<rect x="547" y="821" width="1" height="19" fill="#000" />
<rect x="436" y="839" width="112" height="1" fill="#000" />
</g>
<text x="15.8" y="835.8" font-size="12.6" fill="#6a6a6a" textLength="84.2" lengthAdjust="spacingAndGlyphs" >EURUSD-,Daily</text>
<text x="122.3" y="835.8" font-size="12.6" fill="#6a6a6a" textLength="87" lengthAdjust="spacingAndGlyphs" >AUDUSD-,Daily</text>
<text x="232" y="835.8" font-size="12.6" fill="#6a6a6a" textLength="84.5" lengthAdjust="spacingAndGlyphs" >USDCHF-,Daily</text>
<text x="339" y="835.8" font-size="12.6" fill="#6a6a6a" textLength="86" lengthAdjust="spacingAndGlyphs" >USDCAD-,Daily</text>
<text x="559" y="835.8" font-size="12.6" fill="#6a6a6a" textLength="97" lengthAdjust="spacingAndGlyphs" >EURCHF-,Weekly</text>
<text x="679" y="835.8" font-size="12.6" fill="#6a6a6a" textLength="101" lengthAdjust="spacingAndGlyphs" >XAUUSD-,Weekly</text>
<text x="803" y="835.8" font-size="12.6" fill="#6a6a6a" textLength="73" lengthAdjust="spacingAndGlyphs" >GBPUSD-,H1</text>
<text x="899" y="835.8" font-size="12.6" fill="#6a6a6a" textLength="57" lengthAdjust="spacingAndGlyphs" >UKOil-,H1</text>
<text x="978.5" y="835.8" font-size="12.6" fill="#6a6a6a" textLength="83" lengthAdjust="spacingAndGlyphs" >USDX-,Weekly</text>
<text x="448.6" y="835.8" font-size="12.6" fill="#000" textLength="87" lengthAdjust="spacingAndGlyphs" >USDCNH-,Daily</text>
<g shape-rendering="crispEdges">
<rect x="112" y="824" width="1" height="14" fill="#5a5a5a" />
<rect x="220" y="824" width="1" height="14" fill="#5a5a5a" />
<rect x="328" y="824" width="1" height="14" fill="#5a5a5a" />
<rect x="668" y="824" width="1" height="14" fill="#5a5a5a" />
<rect x="792" y="824" width="1" height="14" fill="#5a5a5a" />
<rect x="888" y="824" width="1" height="14" fill="#5a5a5a" />
<rect x="968" y="824" width="1" height="14" fill="#5a5a5a" />
<rect x="1072" y="824" width="1" height="14" fill="#5a5a5a" />
</g>
<polygon points="1434,830 1437.5,826.5 1437.5,833.5" fill="#7a7a7a"/>
<polygon points="1455.5,830 1452,826.5 1452,833.5" fill="#7a7a7a"/>
<g shape-rendering="crispEdges">
<rect x="4" y="40" width="223" height="68" fill="#fff" />
<rect x="6" y="42" width="52" height="24" fill="url(#gTab)" />
<rect x="173" y="42" width="52" height="24" fill="url(#gTab)" />
<rect x="6" y="42" width="52" height="1" fill="#c81818" />
<rect x="173" y="42" width="52" height="1" fill="#c81818" />
<rect x="6" y="42" width="1" height="24" fill="#d02020" />
<rect x="224" y="42" width="1" height="24" fill="#d02020" />
<rect x="57" y="42" width="1" height="24" fill="#d02020" />
<rect x="173" y="42" width="1" height="24" fill="#d02020" />
<rect x="6" y="66" width="109" height="40" fill="url(#gBig)" />
<rect x="117" y="66" width="108" height="40" fill="url(#gBig)" />
<rect x="6" y="66" width="109" height="1" fill="#c01414" />
<rect x="117" y="66" width="108" height="1" fill="#c01414" />
<rect x="10" y="65" width="44" height="1" fill="#8e0c0c" />
<rect x="10" y="66" width="44" height="1" fill="#f06a6a" />
<rect x="177" y="65" width="44" height="1" fill="#8e0c0c" />
<rect x="177" y="66" width="44" height="1" fill="#f06a6a" />
<rect x="60" y="42" width="111" height="22" fill="#a9afbb" />
<rect x="61" y="43" width="109" height="20" fill="#fff" />
<rect x="62" y="44" width="19" height="18" fill="url(#gBtn)" />
<rect x="81" y="43" width="1" height="20" fill="#a9afbb" />
<rect x="150" y="44" width="19" height="18" fill="url(#gBtn)" />
<rect x="149" y="43" width="1" height="20" fill="#a9afbb" />
</g>
<polygon points="68.2,51 73.8,51 71,54.2" fill="#4a5cc0"/>
<polygon points="156.7,54.2 162.3,54.2 159.5,51" fill="#4a5cc0"/>
<text x="145.9" y="57" font-size="12.4" fill="#000" text-anchor="end" >1.00</text>
<text x="18.2" y="57.2" font-size="11.8" fill="#ffe8e8" textLength="25.6" lengthAdjust="spacingAndGlyphs" >SELL</text>
<text x="186.6" y="57.0" font-size="11.8" fill="#ffe8e8" textLength="23.2" lengthAdjust="spacingAndGlyphs" >BUY</text>
<text x="25.8" y="96.6" font-size="12" fill="#fff" textLength="23.2" lengthAdjust="spacingAndGlyphs" font-weight="bold" >7.07</text>
<text x="135.8" y="96.6" font-size="12" fill="#fff" textLength="23.2" lengthAdjust="spacingAndGlyphs" font-weight="bold" >7.07</text>
<text x="54.2" y="96.9" font-size="34.6" fill="#fff" textLength="33.5" lengthAdjust="spacingAndGlyphs" >17</text>
<text x="163.6" y="96.9" font-size="34.6" fill="#fff" textLength="35.8" lengthAdjust="spacingAndGlyphs" >40</text>
<text x="93" y="80.4" font-size="11.8" fill="#fff" textLength="6.8" lengthAdjust="spacingAndGlyphs" font-weight="bold" >0</text>
<text x="204.4" y="80.1" font-size="11.8" fill="#fff" textLength="6" lengthAdjust="spacingAndGlyphs" font-weight="bold" >5</text>
</svg>
</body></html>
